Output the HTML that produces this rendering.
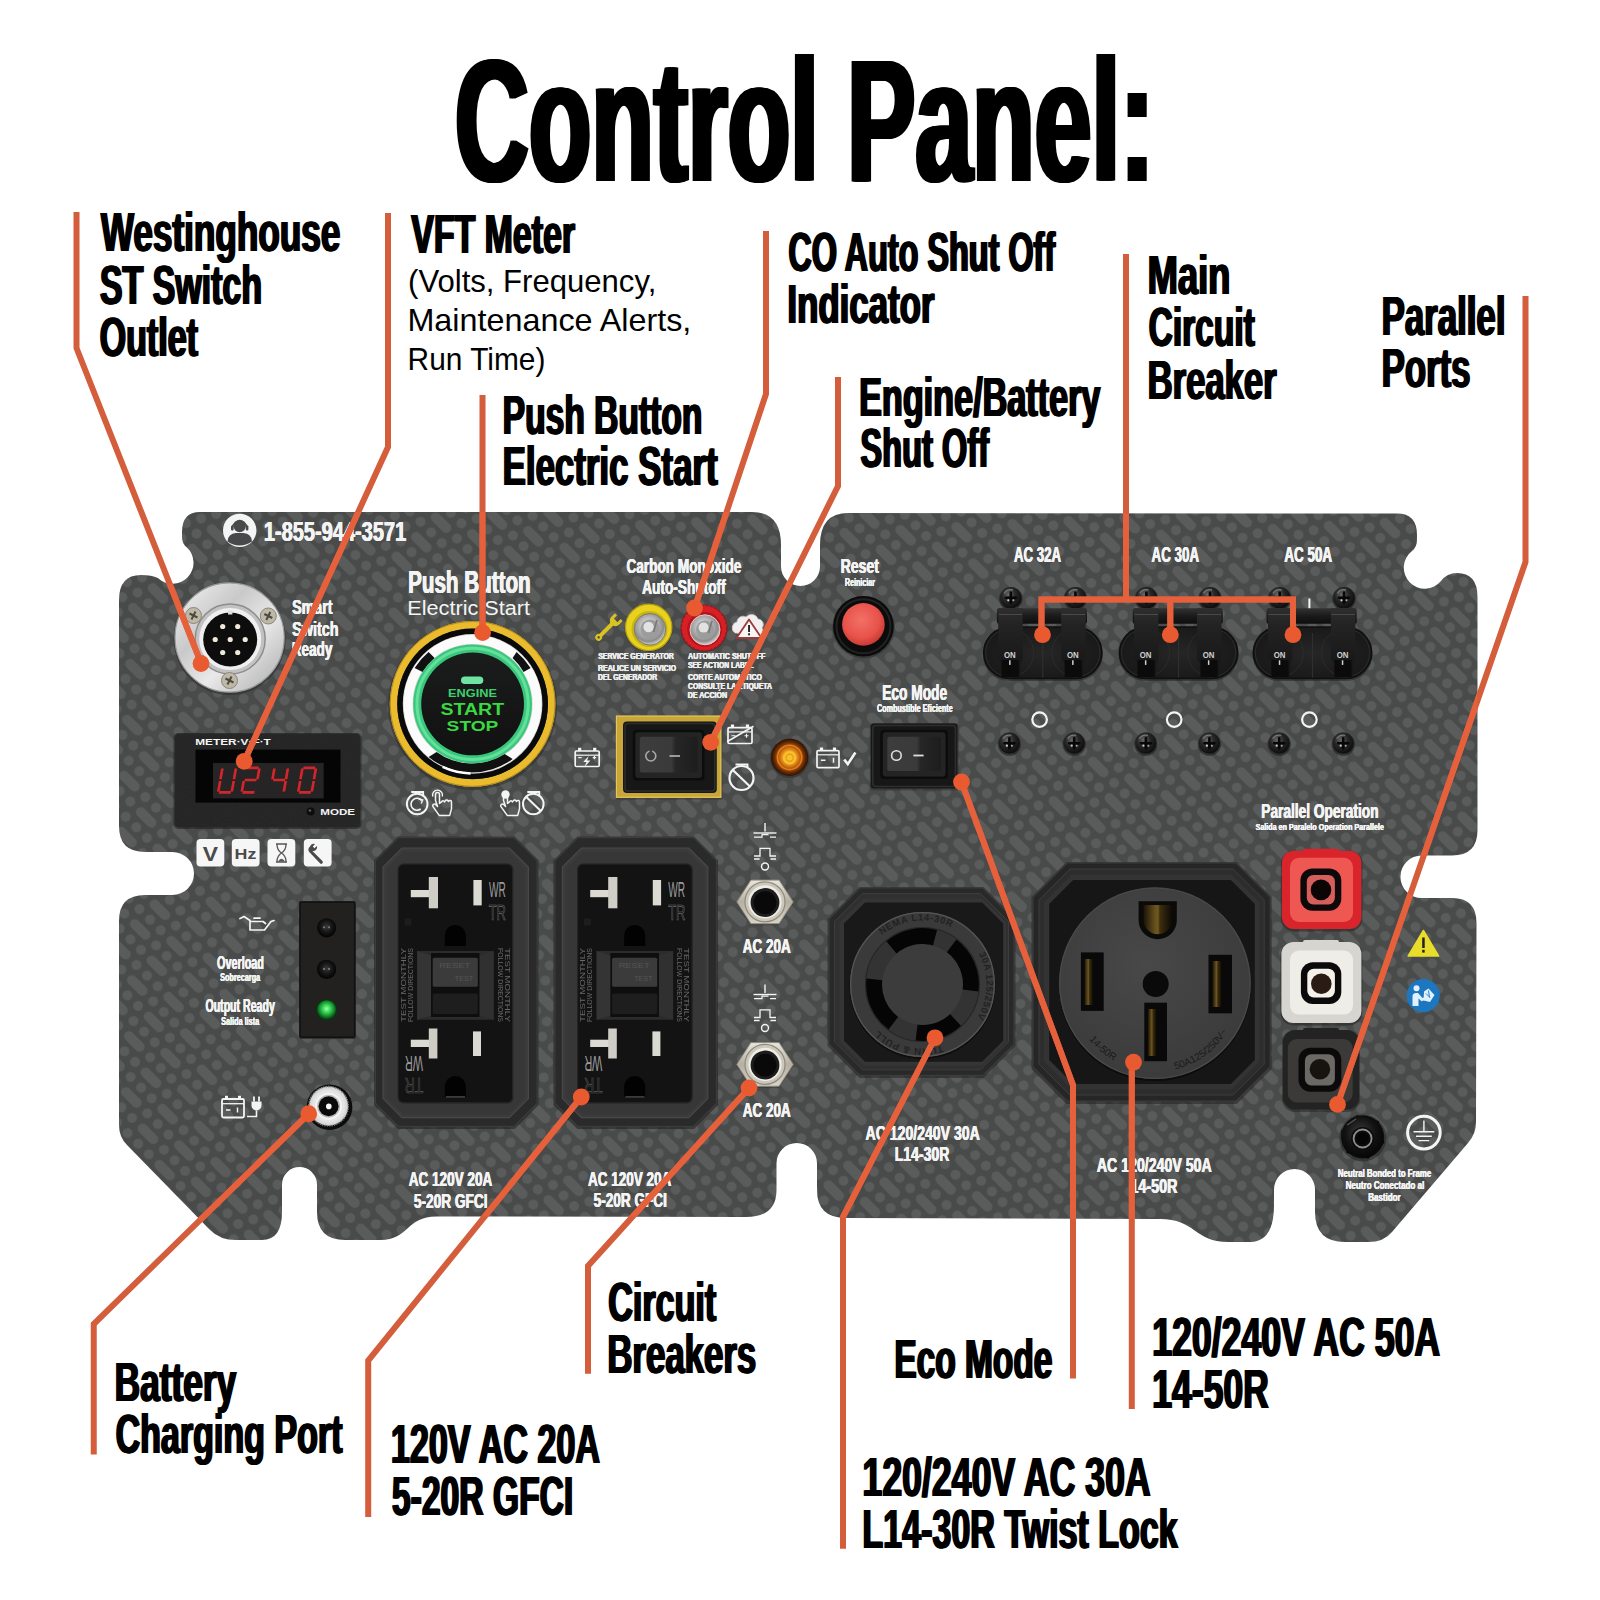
<!DOCTYPE html>
<html lang="en"><head><meta charset="utf-8"><title>Control Panel</title>
<style>
html,body{margin:0;padding:0;background:#fff;}
body{width:1600px;height:1600px;overflow:hidden;font-family:"Liberation Sans",sans-serif;}
svg{display:block;font-family:"Liberation Sans",sans-serif;}
</style></head><body>
<svg width="1600" height="1600" viewBox="0 0 1600 1600">
<defs>
<pattern id="cf" width="75" height="27.8" patternUnits="userSpaceOnUse" patternTransform="translate(3 6) rotate(45)">
<rect width="75" height="27.8" fill="#494b4a"/>
<g fill="#5a5c5b">
<rect x="-12.5" y="-5" width="25" height="10" rx="5"/><rect x="62.5" y="-5" width="25" height="10" rx="5"/>
<rect x="-12.5" y="22.8" width="25" height="10" rx="5"/><rect x="62.5" y="22.8" width="25" height="10" rx="5"/>
<circle cx="22.5" cy="0" r="5"/><circle cx="37.5" cy="0" r="5"/><circle cx="52.5" cy="0" r="5"/>
<circle cx="22.5" cy="27.8" r="5"/><circle cx="37.5" cy="27.8" r="5"/><circle cx="52.5" cy="27.8" r="5"/>
<rect x="25" y="8.9" width="25" height="10" rx="5"/>
<circle cx="60" cy="13.9" r="5"/><circle cx="0" cy="13.9" r="5"/><circle cx="75" cy="13.9" r="5"/><circle cx="15" cy="13.9" r="5"/>
</g>
</pattern>
</defs>
<rect width="1600" height="1600" fill="#fff"/>

<path d="M200,512 L752,512 Q781,512 781,545 L781,566.5 A19.5,19.5 0 0 0 820,566.5 L820,545 Q820,512 850,513 L1397,513.5 Q1417,513.5 1417,535 L1417,540 Q1417,547 1412,551 A21,21 0 1 0 1441,581 Q1447,573 1457,573 Q1477.5,573 1477.5,597 L1477.5,830 Q1477.5,855.5 1452,855.5 L1421.7,855.5 A21.2,21.2 0 0 0 1421.7,898 L1452,898 Q1476.5,898 1476.5,923 L1476,1122 Q1476,1134 1468,1143 L1392,1232 Q1384,1242 1368,1242 L1345,1242 Q1315,1242 1315,1212 L1315,1189.5 A20.5,20.5 0 0 0 1274,1189.5 L1274,1205 Q1274,1242 1250,1242 L1228,1242 C1195,1242 1195,1219 1160,1219 L846,1218 Q817,1218 817,1190 L817,1163.3 A20.25,20.25 0 0 0 776.5,1163.3 L776.5,1190 Q776.5,1217 746,1217 L437,1216.5 C405,1216.5 410,1240 380,1240 L345,1240 Q317,1240 317,1212 L317,1184.5 A17.5,17.5 0 0 0 282,1184.5 L282,1212 Q282,1240 262,1240 L236,1240 Q220,1240 210,1230 L127,1145 Q119,1137 119,1125 L119,921 Q119,895 145,895 L172.5,895 A21.5,21.5 0 0 0 172.5,852 L145,852 Q119,852 119,826 L119,600 Q119,575 141,575 Q152,575 157.9,578 A21,21 0 1 0 187,547.5 Q182,544 182,537 L182,532 Q182,512 200,512 Z" fill="url(#cf)"/>
<defs>
<radialGradient id="scr" cx=".4" cy=".35" r=".7"><stop offset="0" stop-color="#6a6a6a"/><stop offset=".45" stop-color="#262626"/><stop offset="1" stop-color="#0a0a0a"/></radialGradient>
<linearGradient id="chrome" x1="0" y1="0" x2="1" y2="1"><stop offset="0" stop-color="#f4f4f4"/><stop offset=".35" stop-color="#c9c9c9"/><stop offset=".6" stop-color="#e9e9e9"/><stop offset="1" stop-color="#a9a9a9"/></linearGradient>
<radialGradient id="chromeR" cx=".5" cy=".5" r=".5"><stop offset="0" stop-color="#8a8a8a"/><stop offset=".55" stop-color="#b8b8b8"/><stop offset=".75" stop-color="#e8e8e8"/><stop offset="1" stop-color="#cfcfcf"/></radialGradient>
<radialGradient id="greenled" cx=".5" cy=".45" r=".5"><stop offset="0" stop-color="#9dffb0"/><stop offset=".45" stop-color="#2fd24d"/><stop offset="1" stop-color="#0c5a1c"/></radialGradient>
<radialGradient id="darkled" cx=".5" cy=".45" r=".5"><stop offset="0" stop-color="#3a3a3a"/><stop offset=".6" stop-color="#151515"/><stop offset="1" stop-color="#050505"/></radialGradient>
<linearGradient id="btnface" x1="0" y1="0" x2="0" y2="1"><stop offset="0" stop-color="#1b1d1c"/><stop offset="1" stop-color="#101110"/></linearGradient>
<filter id="noise" x="0" y="0" width="100%" height="100%"><feTurbulence type="fractalNoise" baseFrequency="1.1" numOctaves="2" seed="3" result="n"/><feColorMatrix in="n" type="matrix" values="0 0 0 0 0  0 0 0 0 0  0 0 0 0 0  0 0 0 .22 0"/><feComposite operator="in" in2="SourceGraphic"/></filter>

<radialGradient id="metal" cx=".45" cy=".4" r=".6"><stop offset="0" stop-color="#f2f2f2"/><stop offset=".45" stop-color="#b9b9b9"/><stop offset=".8" stop-color="#8c8c8c"/><stop offset="1" stop-color="#d5d5d5"/></radialGradient>
<radialGradient id="amber" cx=".5" cy=".5" r=".5"><stop offset="0" stop-color="#ffd23a"/><stop offset=".35" stop-color="#f0a01c"/><stop offset=".6" stop-color="#b8560e"/><stop offset=".85" stop-color="#5a2506"/><stop offset="1" stop-color="#2a1204"/></radialGradient>
<radialGradient id="redbtn" cx=".45" cy=".4" r=".6"><stop offset="0" stop-color="#f27068"/><stop offset=".7" stop-color="#e8524a"/><stop offset="1" stop-color="#c93a34"/></radialGradient>
<linearGradient id="rocker" x1="0" y1="0" x2="1" y2="0"><stop offset="0" stop-color="#3d3d3d"/><stop offset=".55" stop-color="#3a3a3a"/><stop offset=".62" stop-color="#262626"/><stop offset="1" stop-color="#1d1d1d"/></linearGradient>
<linearGradient id="hexg" x1="0" y1="0" x2="0" y2="1"><stop offset="0" stop-color="#e9e6dc"/><stop offset=".5" stop-color="#b5b0a2"/><stop offset="1" stop-color="#d8d4c8"/></linearGradient>
<radialGradient id="twist" cx=".5" cy=".5" r=".5"><stop offset="0" stop-color="#2c2c2c"/><stop offset=".55" stop-color="#2a2a2a"/><stop offset=".58" stop-color="#1c1c1c"/><stop offset="1" stop-color="#262626"/></radialGradient>

<linearGradient id="lever" x1="0" y1="0" x2="0" y2="1"><stop offset="0" stop-color="#2e2e2e"/><stop offset=".25" stop-color="#232323"/><stop offset="1" stop-color="#141414"/></linearGradient>
<linearGradient id="bar" x1="0" y1="0" x2="0" y2="1"><stop offset="0" stop-color="#333"/><stop offset=".5" stop-color="#1a1a1a"/><stop offset="1" stop-color="#0e0e0e"/></linearGradient>
<radialGradient id="brk" cx=".5" cy=".5" r=".6"><stop offset="0" stop-color="#262626"/><stop offset="1" stop-color="#171717"/></radialGradient>
<radialGradient id="face50" cx=".45" cy=".4" r=".65"><stop offset="0" stop-color="#484848"/><stop offset="1" stop-color="#3a3a3a"/></radialGradient>
<linearGradient id="brass" x1="0" y1="0" x2="1" y2="0"><stop offset="0" stop-color="#1a1306"/><stop offset=".45" stop-color="#6d5620"/><stop offset=".6" stop-color="#3a2c0e"/><stop offset="1" stop-color="#0d0a04"/></linearGradient>
<radialGradient id="stud" cx=".45" cy=".4" r=".6"><stop offset="0" stop-color="#3a3a3a"/><stop offset=".6" stop-color="#111"/><stop offset="1" stop-color="#050505"/></radialGradient>
</defs>
<circle cx="239.7" cy="530.4" r="16.7" fill="#f4f4f4"/>
<circle cx="239.7" cy="526" r="6.2" fill="#47494a"/><path d="M227.5,541.5 Q228,533.5 236,533 L243.4,533 Q251.5,533.5 252,541.5 Q246,545.5 239.7,545.5 Q233,545.5 227.5,541.5 Z" fill="#47494a"/><path d="M232.3,527.5 A7.5,7.5 0 0 1 247.1,527.5" fill="none" stroke="#47494a" stroke-width="1.6"/><rect x="231" y="525.5" width="2.6" height="5" rx="1" fill="#47494a"/><rect x="245.8" y="525.5" width="2.6" height="5" rx="1" fill="#47494a"/>
<text x="263.50" y="541.00" font-size="28" font-weight="bold" fill="#f4f4f4" textLength="142.34" lengthAdjust="spacingAndGlyphs" >1-855-944-3571</text>
<text x="263.85" y="541.00" font-size="28" font-weight="bold" fill="#f4f4f4" textLength="142.34" lengthAdjust="spacingAndGlyphs" >1-855-944-3571</text>
<text x="264.20" y="541.00" font-size="28" font-weight="bold" fill="#f4f4f4" textLength="142.34" lengthAdjust="spacingAndGlyphs" >1-855-944-3571</text>
<circle cx="229.6" cy="639.0" r="56" fill="#2a2a2a" opacity=".55"/>
<circle cx="229.6" cy="637.5" r="54.6" fill="url(#chrome)"/>
<circle cx="229.6" cy="637.5" r="54.6" fill="none" stroke="#9a9a9a" stroke-width="1.2"/>
<circle cx="230.2" cy="639.0" r="35" fill="#c2c2c2"/><circle cx="230.2" cy="639.0" r="35" fill="none" stroke="#8d8d8d" stroke-width="1.5"/>
<circle cx="230.2" cy="639.0" r="31" fill="#efefef"/>
<circle cx="230.2" cy="639.5" r="27" fill="#0d0d0d"/>
<rect x="228.0" y="610.5" width="4.4" height="4" fill="#ddd"/>
<circle cx="245.2" cy="639.5" r="2.6" fill="#efe9d8"/>
<circle cx="237.7" cy="652.5" r="2.6" fill="#efe9d8"/>
<circle cx="222.7" cy="652.5" r="2.6" fill="#efe9d8"/>
<circle cx="215.2" cy="639.5" r="2.6" fill="#efe9d8"/>
<circle cx="222.7" cy="626.5" r="2.6" fill="#efe9d8"/>
<circle cx="237.7" cy="626.5" r="2.6" fill="#efe9d8"/>
<circle cx="230.2" cy="639.5" r="2.6" fill="#efe9d8"/>
<circle cx="193.5" cy="615.5" r="8" fill="#bdb8a8"/><circle cx="193.5" cy="615.5" r="8" fill="none" stroke="#8b8676" stroke-width="1"/><path d="M189.5,613.5 L197.5,617.5 M195.5,611.5 L191.5,619.5" stroke="#4d493f" stroke-width="2"/>
<circle cx="268.3" cy="616" r="8" fill="#bdb8a8"/><circle cx="268.3" cy="616" r="8" fill="none" stroke="#8b8676" stroke-width="1"/><path d="M264.3,614 L272.3,618 M270.3,612 L266.3,620" stroke="#4d493f" stroke-width="2"/>
<circle cx="229.5" cy="680.5" r="8" fill="#bdb8a8"/><circle cx="229.5" cy="680.5" r="8" fill="none" stroke="#8b8676" stroke-width="1"/><path d="M225.5,678.5 L233.5,682.5 M231.5,676.5 L227.5,684.5" stroke="#4d493f" stroke-width="2"/>
<text x="291.87" y="613.80" font-size="21" font-weight="bold" fill="#f4f4f4" textLength="40.33" lengthAdjust="spacingAndGlyphs" >Smart</text>
<text x="292.17" y="613.80" font-size="21" font-weight="bold" fill="#f4f4f4" textLength="40.33" lengthAdjust="spacingAndGlyphs" >Smart</text>
<text x="292.47" y="613.80" font-size="21" font-weight="bold" fill="#f4f4f4" textLength="40.33" lengthAdjust="spacingAndGlyphs" >Smart</text>
<text x="291.87" y="635.60" font-size="21" font-weight="bold" fill="#f4f4f4" textLength="46.44" lengthAdjust="spacingAndGlyphs" >Switch</text>
<text x="292.17" y="635.60" font-size="21" font-weight="bold" fill="#f4f4f4" textLength="46.44" lengthAdjust="spacingAndGlyphs" >Switch</text>
<text x="292.47" y="635.60" font-size="21" font-weight="bold" fill="#f4f4f4" textLength="46.44" lengthAdjust="spacingAndGlyphs" >Switch</text>
<text x="291.42" y="656.30" font-size="21" font-weight="bold" fill="#f4f4f4" textLength="40.67" lengthAdjust="spacingAndGlyphs" >Ready</text>
<text x="291.72" y="656.30" font-size="21" font-weight="bold" fill="#f4f4f4" textLength="40.67" lengthAdjust="spacingAndGlyphs" >Ready</text>
<text x="292.02" y="656.30" font-size="21" font-weight="bold" fill="#f4f4f4" textLength="40.67" lengthAdjust="spacingAndGlyphs" >Ready</text>
<rect x="173.5" y="733" width="188" height="96" rx="5" fill="#1b1b1b" opacity=".55"/>
<rect x="175" y="733.8" width="185" height="93.5" rx="4" fill="#2b2b2b"/>
<rect x="175" y="733.8" width="185" height="93.5" rx="4" fill="#888" filter="url(#noise)"/>
<rect x="195.5" y="749.6" width="145" height="53" fill="#050505"/>
<rect x="213" y="763" width="110.7" height="35.4" fill="#262424"/>
<path transform="translate(222.5,767.8) skewX(-10)" d="M0.0,0.8 L0.0,11.4 M13.5,0.8 L13.5,11.4 M0.0,13.1 L0.0,23.7 M0.8,24.5 L12.7,24.5 M13.5,13.1 L13.5,23.7" stroke="#d3262b" stroke-width="2.7" stroke-linecap="butt" fill="none"/>
<path transform="translate(246,767.8) skewX(-10)" d="M0.8,0.0 L12.7,0.0 M13.5,0.8 L13.5,11.4 M0.8,12.2 L12.7,12.2 M0.0,13.1 L0.0,23.7 M0.8,24.5 L12.7,24.5" stroke="#d3262b" stroke-width="2.7" stroke-linecap="butt" fill="none"/>
<path transform="translate(274.5,767.8) skewX(-10)" d="M0.0,0.8 L0.0,11.4 M0.8,12.2 L12.7,12.2 M13.5,0.8 L13.5,11.4 M13.5,13.1 L13.5,23.7" stroke="#d3262b" stroke-width="2.7" stroke-linecap="butt" fill="none"/>
<path transform="translate(302.5,767.8) skewX(-10)" d="M0.8,0.0 L12.7,0.0 M13.5,0.8 L13.5,11.4 M13.5,13.1 L13.5,23.7 M0.8,24.5 L12.7,24.5 M0.0,13.1 L0.0,23.7 M0.0,0.8 L0.0,11.4" stroke="#d3262b" stroke-width="2.7" stroke-linecap="butt" fill="none"/>
<text x="195.23" y="745.00" font-size="8.6" font-weight="bold" fill="#f4f4f4" textLength="75.62" lengthAdjust="spacingAndGlyphs" >METER·V·F·T</text>
<text x="320.25" y="815.20" font-size="8.6" font-weight="bold" fill="#f4f4f4" textLength="34.76" lengthAdjust="spacingAndGlyphs" >MODE</text>
<circle cx="310.6" cy="811.5" r="4" fill="#0c0c0c"/><circle cx="309.9" cy="810.6" r="1.4" fill="#555"/>
<rect x="196.5" y="839" width="27.8" height="27.6" rx="4" fill="#f6f6f6"/>
<rect x="231.8" y="839" width="27.8" height="27.6" rx="4" fill="#f6f6f6"/>
<rect x="267.5" y="839" width="27.8" height="27.6" rx="4" fill="#f6f6f6"/>
<rect x="303.8" y="839" width="27.8" height="27.6" rx="4" fill="#f6f6f6"/>
<text x="202.89" y="860.50" font-size="21" font-weight="bold" fill="#4a4a4a" textLength="15.28" lengthAdjust="spacingAndGlyphs" >V</text>
<text x="234.64" y="858.80" font-size="14" font-weight="bold" fill="#4a4a4a" textLength="21.82" lengthAdjust="spacingAndGlyphs" >Hz</text>
<path d="M276,844 L287,844 M276,862 L287,862 M277,844.5 Q277,850 281.5,853 Q286,850 286,844.5 M277,861.5 Q277,856 281.5,853 Q286,856 286,861.5" fill="none" stroke="#555" stroke-width="1.3"/><path d="M278,861.5 Q281.5,856 285,861.5 Z" fill="#555"/>
<path d="M310,846.5 a4,4 0 0 1 5,-2.5 l-2.2,2.6 l1.6,1.6 l2.6,-2.2 a4,4 0 0 1 -4.6,5 l10,10 a1.6,1.6 0 0 1 -2.4,2.3 l-9.8,-10.2 a4,4 0 0 1 -.2,-6.6 Z" fill="#4a4a4a"/>
<rect x="299" y="901" width="57" height="138" rx="2" fill="#1f1f1f" opacity=".6"/>
<rect x="300" y="901.9" width="54.7" height="135.3" rx="1.5" fill="#222120"/>
<rect x="300" y="901.9" width="54.7" height="135.3" rx="1.5" fill="none" stroke="#111" stroke-width="1.5"/>
<circle cx="326.6" cy="927.8" r="9.6" fill="url(#darkled)"/><circle cx="324" cy="927.3" r="1.1" fill="#777"/><circle cx="329" cy="927.3" r="1.1" fill="#777"/>
<circle cx="326.6" cy="969.4" r="9.6" fill="url(#darkled)"/><circle cx="324" cy="968.9" r="1.1" fill="#777"/><circle cx="329" cy="968.9" r="1.1" fill="#777"/>
<circle cx="326.6" cy="1009.7" r="11" fill="#0d3314"/><circle cx="326.6" cy="1009.7" r="9.4" fill="url(#greenled)"/>
<text x="216.77" y="969.40" font-size="18.7" font-weight="bold" fill="#f4f4f4" textLength="46.83" lengthAdjust="spacingAndGlyphs" >Overload</text>
<text x="217.02" y="969.40" font-size="18.7" font-weight="bold" fill="#f4f4f4" textLength="46.83" lengthAdjust="spacingAndGlyphs" >Overload</text>
<text x="217.27" y="969.40" font-size="18.7" font-weight="bold" fill="#f4f4f4" textLength="46.83" lengthAdjust="spacingAndGlyphs" >Overload</text>
<text x="220.08" y="981.00" font-size="10.5" font-weight="bold" fill="#f4f4f4" textLength="39.96" lengthAdjust="spacingAndGlyphs" >Sobrecarga</text>
<text x="220.18" y="981.00" font-size="10.5" font-weight="bold" fill="#f4f4f4" textLength="39.96" lengthAdjust="spacingAndGlyphs" >Sobrecarga</text>
<text x="220.28" y="981.00" font-size="10.5" font-weight="bold" fill="#f4f4f4" textLength="39.96" lengthAdjust="spacingAndGlyphs" >Sobrecarga</text>
<text x="205.18" y="1012.20" font-size="18.7" font-weight="bold" fill="#f4f4f4" textLength="69.39" lengthAdjust="spacingAndGlyphs" >Output Ready</text>
<text x="205.43" y="1012.20" font-size="18.7" font-weight="bold" fill="#f4f4f4" textLength="69.39" lengthAdjust="spacingAndGlyphs" >Output Ready</text>
<text x="205.68" y="1012.20" font-size="18.7" font-weight="bold" fill="#f4f4f4" textLength="69.39" lengthAdjust="spacingAndGlyphs" >Output Ready</text>
<text x="221.03" y="1024.70" font-size="10.5" font-weight="bold" fill="#f4f4f4" textLength="38.09" lengthAdjust="spacingAndGlyphs" >Salida lista</text>
<text x="221.13" y="1024.70" font-size="10.5" font-weight="bold" fill="#f4f4f4" textLength="38.09" lengthAdjust="spacingAndGlyphs" >Salida lista</text>
<text x="221.23" y="1024.70" font-size="10.5" font-weight="bold" fill="#f4f4f4" textLength="38.09" lengthAdjust="spacingAndGlyphs" >Salida lista</text>
<path d="M240,918.5 l4,-2 l6,4 l0,9.5 l14.5,0 l6.5,-8.5 l3,-1 M250,921.5 l13,0 l2.5,2 M254,918.2 l6,0" fill="none" stroke="#f4f4f4" stroke-width="1.7" stroke-linejoin="round" stroke-linecap="round"/>
<rect x="222" y="1099" width="22" height="18.5" rx="1.5" fill="none" stroke="#f4f4f4" stroke-width="1.8"/><path d="M226.5,1099 v-3.3 M239.5,1099 v-3.3" stroke="#f4f4f4" stroke-width="3"/><path d="M222,1103.7 h22" stroke="#f4f4f4" stroke-width="1.3"/><path d="M226,1110 h4.5 M237.5,1107.5 v5" stroke="#f4f4f4" stroke-width="1.5"/><path d="M247,1116.5 h9.5 v-6" fill="none" stroke="#f4f4f4" stroke-width="1.6"/><path d="M251.5,1101.5 h10 v4 a5,5 0 0 1 -10,0 Z" fill="#f4f4f4"/><path d="M254,1101.5 v-5 M259,1101.5 v-5" stroke="#f4f4f4" stroke-width="1.8"/>
<circle cx="329.5" cy="1107.2" r="22.8" fill="#0c0c0c"/>
<circle cx="328.6" cy="1106.2" r="19.6" fill="url(#chromeR)"/>
<circle cx="328.6" cy="1106.2" r="19.6" fill="none" stroke="#8b8b8b" stroke-width="1.6" stroke-dasharray="1.2 1.2"/>
<circle cx="328.6" cy="1106.2" r="12.6" fill="none" stroke="#f3f3f3" stroke-width="2.2"/><circle cx="328.6" cy="1106.2" r="10" fill="#090909"/><circle cx="328.8" cy="1106.4" r="2.8" fill="#f8f8f8"/>
<path d="M398.0,836.6 L514.6,836.6 L538.6,860.6 L538.6,1104.9 L514.6,1128.9 L398.0,1128.9 L374.0,1104.9 L374.0,860.6 Z" fill="#1d1d1d" opacity=".55"/>
<path d="M398.5,837.6 L514.1,837.6 L537.1,860.6 L537.1,1103.4 L514.1,1126.4 L398.5,1126.4 L375.5,1103.4 L375.5,860.6 Z" fill="#2a2a2a" stroke="#3b3b3b" stroke-width="1.2"/>
<path d="M402.0,848.0 L509.4,848.0 L528.4,867.0 L528.4,1098.6000000000001 L509.4,1117.6000000000001 L402.0,1117.6000000000001 L383.0,1098.6000000000001 L383.0,867.0 Z" fill="#3b3b3b" stroke="#484848" stroke-width="1.2"/>
<path d="M403.5,851.6 L508.1,851.6 L525.1,868.6 L525.1,1097.4 L508.1,1114.4 L403.5,1114.4 L386.5,1097.4 L386.5,868.6 Z" fill="#373737"/>
<rect x="397.6" y="863.4" width="115.8" height="240" rx="6" fill="#232323"/>
<rect x="398.8" y="864.7" width="113.2" height="237.3" rx="5" fill="#131313"/>
<rect x="410.8" y="890" width="19" height="7.2" fill="#dad9d2"/><rect x="428.8" y="877" width="9.2" height="31.3" fill="#cfcec6"/>
<rect x="473.4" y="880" width="8.3" height="25.4" fill="#dad9d2"/>
<rect x="410.8" y="1039.7" width="19" height="7.3" fill="#dad9d2"/><rect x="428.8" y="1028.5" width="8.6" height="30" fill="#cfcec6"/>
<rect x="473.0" y="1031.4" width="8" height="24.6" fill="#dad9d2"/>
<path d="M444.8,946.0 L444.8,935.5 A10.5,10.5 0 0 1 465.8,935.5 L465.8,946.0 Z" fill="#020202"/>
<path d="M444.8,1097.1 L444.8,1086.6 A10.5,10.5 0 0 1 465.8,1086.6 L465.8,1097.1 Z" fill="#020202"/>
<rect x="446.0" y="1096" width="19" height="1.8" fill="#3a3a3a"/>
<text x="488.95" y="897.00" font-size="22" font-weight="normal" fill="#9a9a9a" textLength="16.81" lengthAdjust="spacingAndGlyphs" >WR</text>
<text x="488.74" y="919.50" font-size="22" font-weight="normal" fill="none" textLength="17.18" lengthAdjust="spacingAndGlyphs" stroke="#6d6d6d" stroke-width=".7">TR</text>
<g transform="rotate(180 414.2 1063.5)">
<text x="405.45" y="1071.50" font-size="22" font-weight="normal" fill="#9a9a9a" textLength="18.05" lengthAdjust="spacingAndGlyphs" >WR</text>
</g>
<g transform="rotate(180 414.2 1086)">
<text x="405.22" y="1094.00" font-size="22" font-weight="normal" fill="none" textLength="18.44" lengthAdjust="spacingAndGlyphs" stroke="#5a5a5a" stroke-width=".7">TR</text>
</g>
<path d="M417.2,951 L493.7,951 L493.7,1019.8 L417.2,1019.8 Z" fill="#2c2c2c"/>
<path d="M417.2,951 L432.0,956 L432.0,1015 L417.2,1019.8 Z" fill="#343434"/><path d="M493.7,951 L478.5,956 L478.5,1015 L493.7,1019.8 Z" fill="#303030"/>
<rect x="431.0" y="953" width="48.5" height="64" fill="#0e0e0e"/>
<rect x="432.7" y="957.8" width="45.1" height="29" rx="1.5" fill="#3b3b3b"/>
<rect x="432.7" y="993.6" width="45.1" height="20.4" rx="1.5" fill="#1e1e1e"/>
<text x="439.26" y="968.00" font-size="7" font-weight="normal" fill="#555" textLength="30.92" lengthAdjust="spacingAndGlyphs" >RESET</text>
<text x="454.86" y="981.00" font-size="7" font-weight="normal" fill="#555" textLength="18.29" lengthAdjust="spacingAndGlyphs" >TEST</text>
<g transform="rotate(-90 408.0 985)" fill="#777" font-size="6.6" opacity=".85"><text x="371.0" y="983" textLength="74" lengthAdjust="spacingAndGlyphs">TEST MONTHLY</text><text x="371.0" y="990" textLength="74" lengthAdjust="spacingAndGlyphs">FOLLOW DIRECTIONS</text></g>
<g transform="rotate(90 503.0 985)" fill="#777" font-size="6.6" opacity=".85"><text x="466.0" y="983" textLength="74" lengthAdjust="spacingAndGlyphs">TEST MONTHLY</text><text x="466.0" y="990" textLength="74" lengthAdjust="spacingAndGlyphs">FOLLOW DIRECTIONS</text></g>
<rect x="404.5" y="918.5" width="7" height="7" rx="1" fill="#1d1d1d"/>
<path d="M577.4,836.6 L694.0,836.6 L718.0,860.6 L718.0,1104.9 L694.0,1128.9 L577.4,1128.9 L553.4,1104.9 L553.4,860.6 Z" fill="#1d1d1d" opacity=".55"/>
<path d="M577.9,837.6 L693.5,837.6 L716.5,860.6 L716.5,1103.4 L693.5,1126.4 L577.9,1126.4 L554.9,1103.4 L554.9,860.6 Z" fill="#2a2a2a" stroke="#3b3b3b" stroke-width="1.2"/>
<path d="M581.4,848.0 L688.8,848.0 L707.8,867.0 L707.8,1098.6000000000001 L688.8,1117.6000000000001 L581.4,1117.6000000000001 L562.4,1098.6000000000001 L562.4,867.0 Z" fill="#3b3b3b" stroke="#484848" stroke-width="1.2"/>
<path d="M582.9,851.6 L687.5,851.6 L704.5,868.6 L704.5,1097.4 L687.5,1114.4 L582.9,1114.4 L565.9,1097.4 L565.9,868.6 Z" fill="#373737"/>
<rect x="576.9999999999999" y="863.4" width="115.8" height="240" rx="6" fill="#232323"/>
<rect x="578.1999999999999" y="864.7" width="113.2" height="237.3" rx="5" fill="#131313"/>
<rect x="590.2" y="890" width="19" height="7.2" fill="#dad9d2"/><rect x="608.2" y="877" width="9.2" height="31.3" fill="#cfcec6"/>
<rect x="652.8" y="880" width="8.3" height="25.4" fill="#dad9d2"/>
<rect x="590.2" y="1039.7" width="19" height="7.3" fill="#dad9d2"/><rect x="608.2" y="1028.5" width="8.6" height="30" fill="#cfcec6"/>
<rect x="652.4" y="1031.4" width="8" height="24.6" fill="#dad9d2"/>
<path d="M624.2,946.0 L624.2,935.5 A10.5,10.5 0 0 1 645.2,935.5 L645.2,946.0 Z" fill="#020202"/>
<path d="M624.2,1097.1 L624.2,1086.6 A10.5,10.5 0 0 1 645.2,1086.6 L645.2,1097.1 Z" fill="#020202"/>
<rect x="625.4" y="1096" width="19" height="1.8" fill="#3a3a3a"/>
<text x="668.35" y="897.00" font-size="22" font-weight="normal" fill="#9a9a9a" textLength="16.81" lengthAdjust="spacingAndGlyphs" >WR</text>
<text x="668.14" y="919.50" font-size="22" font-weight="normal" fill="none" textLength="17.18" lengthAdjust="spacingAndGlyphs" stroke="#6d6d6d" stroke-width=".7">TR</text>
<g transform="rotate(180 593.5999999999999 1063.5)">
<text x="584.85" y="1071.50" font-size="22" font-weight="normal" fill="#9a9a9a" textLength="18.05" lengthAdjust="spacingAndGlyphs" >WR</text>
</g>
<g transform="rotate(180 593.5999999999999 1086)">
<text x="584.62" y="1094.00" font-size="22" font-weight="normal" fill="none" textLength="18.44" lengthAdjust="spacingAndGlyphs" stroke="#5a5a5a" stroke-width=".7">TR</text>
</g>
<path d="M596.5999999999999,951 L673.0999999999999,951 L673.0999999999999,1019.8 L596.5999999999999,1019.8 Z" fill="#2c2c2c"/>
<path d="M596.5999999999999,951 L611.4,956 L611.4,1015 L596.5999999999999,1019.8 Z" fill="#343434"/><path d="M673.0999999999999,951 L657.9,956 L657.9,1015 L673.0999999999999,1019.8 Z" fill="#303030"/>
<rect x="610.4" y="953" width="48.5" height="64" fill="#0e0e0e"/>
<rect x="612.0999999999999" y="957.8" width="45.1" height="29" rx="1.5" fill="#3b3b3b"/>
<rect x="612.0999999999999" y="993.6" width="45.1" height="20.4" rx="1.5" fill="#1e1e1e"/>
<text x="618.66" y="968.00" font-size="7" font-weight="normal" fill="#555" textLength="30.92" lengthAdjust="spacingAndGlyphs" >RESET</text>
<text x="634.26" y="981.00" font-size="7" font-weight="normal" fill="#555" textLength="18.29" lengthAdjust="spacingAndGlyphs" >TEST</text>
<g transform="rotate(-90 587.4 985)" fill="#777" font-size="6.6" opacity=".85"><text x="550.4" y="983" textLength="74" lengthAdjust="spacingAndGlyphs">TEST MONTHLY</text><text x="550.4" y="990" textLength="74" lengthAdjust="spacingAndGlyphs">FOLLOW DIRECTIONS</text></g>
<g transform="rotate(90 682.4 985)" fill="#777" font-size="6.6" opacity=".85"><text x="645.4" y="983" textLength="74" lengthAdjust="spacingAndGlyphs">TEST MONTHLY</text><text x="645.4" y="990" textLength="74" lengthAdjust="spacingAndGlyphs">FOLLOW DIRECTIONS</text></g>
<rect x="583.9" y="918.5" width="7" height="7" rx="1" fill="#1d1d1d"/>
<text x="408.41" y="1185.60" font-size="20.5" font-weight="bold" fill="#f4f4f4" textLength="83.53" lengthAdjust="spacingAndGlyphs" >AC 120V 20A</text>
<text x="408.71" y="1185.60" font-size="20.5" font-weight="bold" fill="#f4f4f4" textLength="83.53" lengthAdjust="spacingAndGlyphs" >AC 120V 20A</text>
<text x="409.01" y="1185.60" font-size="20.5" font-weight="bold" fill="#f4f4f4" textLength="83.53" lengthAdjust="spacingAndGlyphs" >AC 120V 20A</text>
<text x="413.59" y="1207.50" font-size="20.5" font-weight="bold" fill="#f4f4f4" textLength="73.67" lengthAdjust="spacingAndGlyphs" >5-20R GFCI</text>
<text x="413.89" y="1207.50" font-size="20.5" font-weight="bold" fill="#f4f4f4" textLength="73.67" lengthAdjust="spacingAndGlyphs" >5-20R GFCI</text>
<text x="414.19" y="1207.50" font-size="20.5" font-weight="bold" fill="#f4f4f4" textLength="73.67" lengthAdjust="spacingAndGlyphs" >5-20R GFCI</text>
<text x="587.66" y="1185.60" font-size="20.5" font-weight="bold" fill="#f4f4f4" textLength="83.33" lengthAdjust="spacingAndGlyphs" >AC 120V 20A</text>
<text x="587.96" y="1185.60" font-size="20.5" font-weight="bold" fill="#f4f4f4" textLength="83.33" lengthAdjust="spacingAndGlyphs" >AC 120V 20A</text>
<text x="588.26" y="1185.60" font-size="20.5" font-weight="bold" fill="#f4f4f4" textLength="83.33" lengthAdjust="spacingAndGlyphs" >AC 120V 20A</text>
<text x="593.34" y="1207.20" font-size="20.5" font-weight="bold" fill="#f4f4f4" textLength="73.26" lengthAdjust="spacingAndGlyphs" >5-20R GFCI</text>
<text x="593.64" y="1207.20" font-size="20.5" font-weight="bold" fill="#f4f4f4" textLength="73.26" lengthAdjust="spacingAndGlyphs" >5-20R GFCI</text>
<text x="593.94" y="1207.20" font-size="20.5" font-weight="bold" fill="#f4f4f4" textLength="73.26" lengthAdjust="spacingAndGlyphs" >5-20R GFCI</text>
<text x="407.66" y="592.90" font-size="30.5" font-weight="bold" fill="#f4f4f4" textLength="122.55" lengthAdjust="spacingAndGlyphs" >Push Button</text>
<text x="408.11" y="592.90" font-size="30.5" font-weight="bold" fill="#f4f4f4" textLength="122.55" lengthAdjust="spacingAndGlyphs" >Push Button</text>
<text x="408.56" y="592.90" font-size="30.5" font-weight="bold" fill="#f4f4f4" textLength="122.55" lengthAdjust="spacingAndGlyphs" >Push Button</text>
<text x="407.27" y="614.90" font-size="20" font-weight="normal" fill="#f4f4f4" textLength="122.81" lengthAdjust="spacingAndGlyphs" >Electric Start</text>
<circle cx="472.6" cy="705.4" r="84.5" fill="#2a2a2a" opacity=".5"/>
<circle cx="472.6" cy="703.9" r="79" fill="none" stroke="#e9bb2d" stroke-width="7.6"/>
<circle cx="472.6" cy="703.9" r="82.4" fill="none" stroke="#b38a1c" stroke-width="1"/>
<circle cx="472.6" cy="703.9" r="75.4" fill="#0a0a0a"/>
<circle cx="472.6" cy="703.9" r="69.8" fill="url(#chrome)"/>
<circle cx="472.6" cy="703.9" r="64.5" fill="none" stroke="#fbfbfb" stroke-width="9"/>
<path d="M414.6,667.9 A68,68 0 0 1 428.6,651.9 L434.6,657.9 A60,60 0 0 0 422.6,671.9 Z" fill="#111"/>
<path d="M530.6,667.9 A68,68 0 0 0 516.6,651.9 L512.6,657.9 A60,60 0 0 1 523.6,671.9 Z" fill="#111"/>
<path d="M428.6,756.9 A68,68 0 0 0 512.6,758.9 L504.6,753.9 A60,60 0 0 1 436.6,751.9 Z" fill="#111"/>
<path d="M442.6,766.9 A70,70 0 0 0 470.6,773.4" stroke="#fff" stroke-width="2.5" fill="none"/>
<circle cx="472.6" cy="703.9" r="59.4" fill="#39c77e"/>
<circle cx="472.6" cy="703.9" r="55.6" fill="none" stroke="#63e09a" stroke-width="3"/>
<circle cx="472.6" cy="703.9" r="51.4" fill="url(#btnface)"/>
<rect x="461" y="676.5" width="22.3" height="7.5" rx="3.75" fill="#6ee3a2"/>
<text x="448.07" y="697.00" font-size="10.4" font-weight="bold" fill="#3fcf6e" textLength="48.93" lengthAdjust="spacingAndGlyphs" >ENGINE</text>
<text x="440.41" y="715.00" font-size="16" font-weight="bold" fill="#3ad842" textLength="63.76" lengthAdjust="spacingAndGlyphs" >START</text>
<text x="446.63" y="731.30" font-size="15.4" font-weight="bold" fill="#3ad842" textLength="51.74" lengthAdjust="spacingAndGlyphs" >STOP</text>
<path d="M411.2,792.0 h12 v3" fill="none" stroke="#f4f4f4" stroke-width="1.8"/><circle cx="417.2" cy="804.0" r="10.3" fill="none" stroke="#f4f4f4" stroke-width="2"/><path d="M421.7,800.5 A6,6 0 1 0 420.7,809.0" fill="none" stroke="#f4f4f4" stroke-width="1.6"/><path d="M418.7,799.0 l4,1 l-1.5,3.5" fill="none" stroke="#f4f4f4" stroke-width="1.4"/>
<path d="M435.5,800.5 v-6 a2,2 0 0 1 4,0 v9 l2,-1.6 a1.6,1.6 0 0 1 3,0 l.8,-1 a1.6,1.6 0 0 1 3,.6 l.6,-.6 a1.5,1.5 0 0 1 2.6,1 v7 l-1.8,6.5 h-10.5 l-6.4,-9 a1.8,1.8 0 0 1 2.8,-2 l2,2 Z" fill="none" stroke="#f4f4f4" stroke-width="1.5" stroke-linejoin="round"/><path d="M432.7,796.5 a5,5 0 1 1 9.6,0" fill="none" stroke="#f4f4f4" stroke-width="1.4"/>
<path d="M503.5,800.5 v-6 a2,2 0 0 1 4,0 v9 l2,-1.6 a1.6,1.6 0 0 1 3,0 l.8,-1 a1.6,1.6 0 0 1 3,.6 l.6,-.6 a1.5,1.5 0 0 1 2.6,1 v7 l-1.8,6.5 h-10.5 l-6.4,-9 a1.8,1.8 0 0 1 2.8,-2 l2,2 Z" fill="none" stroke="#f4f4f4" stroke-width="1.5" stroke-linejoin="round"/><circle cx="505.5" cy="794.5" r="4.2" fill="#f4f4f4"/>
<path d="M527.3,792.0 h12 v3" fill="none" stroke="#f4f4f4" stroke-width="1.8"/><circle cx="533.3" cy="804.0" r="10.3" fill="none" stroke="#f4f4f4" stroke-width="2"/><path d="M526.3,797.0 L540.8,811.0" stroke="#f4f4f4" stroke-width="2"/>
<text x="626.16" y="573.00" font-size="19.3" font-weight="bold" fill="#f4f4f4" textLength="114.91" lengthAdjust="spacingAndGlyphs" >Carbon Monoxide</text>
<text x="626.46" y="573.00" font-size="19.3" font-weight="bold" fill="#f4f4f4" textLength="114.91" lengthAdjust="spacingAndGlyphs" >Carbon Monoxide</text>
<text x="626.76" y="573.00" font-size="19.3" font-weight="bold" fill="#f4f4f4" textLength="114.91" lengthAdjust="spacingAndGlyphs" >Carbon Monoxide</text>
<text x="641.86" y="594.30" font-size="19.3" font-weight="bold" fill="#f4f4f4" textLength="83.52" lengthAdjust="spacingAndGlyphs" >Auto-Shutoff</text>
<text x="642.16" y="594.30" font-size="19.3" font-weight="bold" fill="#f4f4f4" textLength="83.52" lengthAdjust="spacingAndGlyphs" >Auto-Shutoff</text>
<text x="642.46" y="594.30" font-size="19.3" font-weight="bold" fill="#f4f4f4" textLength="83.52" lengthAdjust="spacingAndGlyphs" >Auto-Shutoff</text>
<circle cx="648.7" cy="628" r="24" fill="#2a2a2a" opacity=".45"/>
<circle cx="648.7" cy="627.3" r="23.2" fill="#e9d21e"/><circle cx="648.7" cy="627.3" r="23.2" fill="none" stroke="#b39d10" stroke-width="1.2"/>
<circle cx="649.5" cy="629" r="18" fill="#c9b412"/>
<circle cx="650" cy="629.3" r="15.8" fill="url(#metal)"/><circle cx="650" cy="629.3" r="15.8" fill="none" stroke="#7b7b6b" stroke-width="1"/>
<circle cx="650" cy="629" r="9.5" fill="#9c9c9c"/><circle cx="648.6" cy="627" r="5.2" fill="#e2e2e2"/><path d="M657,620 l-3.5,12" stroke="#777" stroke-width="1.6"/>
<circle cx="704" cy="628.8" r="23.6" fill="#2a2a2a" opacity=".45"/>
<circle cx="704" cy="628" r="22.7" fill="#d81f26"/><circle cx="704" cy="628" r="22.7" fill="none" stroke="#a5141a" stroke-width="1.5" stroke-dasharray="2.5 2"/>
<circle cx="704.6" cy="629.4" r="17.4" fill="#b5141a"/>
<circle cx="705" cy="629.8" r="15" fill="url(#metal)"/><circle cx="705" cy="629.8" r="15" fill="none" stroke="#e7c7c7" stroke-width="1"/>
<circle cx="705" cy="629.6" r="9" fill="#9c9c9c"/><circle cx="703.6" cy="627.6" r="5" fill="#e2e2e2"/><path d="M712,621 l-3.5,12" stroke="#777" stroke-width="1.6"/>
<g transform="translate(607.5 628.5) rotate(45)"><rect x="-2" y="-11" width="4" height="24" rx="1.5" fill="#d9c322"/><path d="M-5.5,-16 v5 a5.5,5.5 0 0 0 11,0 v-5 l-3,0 v4.5 h-5 v-4.5 Z" fill="#d9c322"/><circle cx="0" cy="12.5" r="3.4" fill="#d9c322"/><circle cx="0" cy="12.5" r="1.2" fill="#47494a"/></g>
<path d="M735,633 a6,6 0 0 1 2,-11 a6,6 0 0 1 9,-5 a7,7 0 0 1 12,2 a5.5,5.5 0 0 1 4,9 a5,5 0 0 1 -1,7 Z" fill="#f1efef" stroke="#c9c2c2" stroke-width=".8"/>
<path d="M749,619.5 L761.5,638 L736.5,638 Z" fill="#f7f5f5" stroke="#9a3a3a" stroke-width="1.8" stroke-linejoin="round"/><rect x="748.1" y="625" width="1.9" height="7" fill="#222"/><rect x="748.1" y="633.3" width="1.9" height="2" fill="#222"/>
<text x="597.99" y="659.00" font-size="8.4" font-weight="bold" fill="#eeeeee" textLength="75.62" lengthAdjust="spacingAndGlyphs" >SERVICE GENERATOR</text>
<text x="598.21" y="659.00" font-size="8.4" font-weight="bold" fill="#eeeeee" textLength="75.62" lengthAdjust="spacingAndGlyphs" >SERVICE GENERATOR</text>
<text x="598.43" y="659.00" font-size="8.4" font-weight="bold" fill="#eeeeee" textLength="75.62" lengthAdjust="spacingAndGlyphs" >SERVICE GENERATOR</text>
<text x="597.74" y="671.40" font-size="8.4" font-weight="bold" fill="#eeeeee" textLength="78.13" lengthAdjust="spacingAndGlyphs" >REALICE UN SERVICIO</text>
<text x="597.96" y="671.40" font-size="8.4" font-weight="bold" fill="#eeeeee" textLength="78.13" lengthAdjust="spacingAndGlyphs" >REALICE UN SERVICIO</text>
<text x="598.18" y="671.40" font-size="8.4" font-weight="bold" fill="#eeeeee" textLength="78.13" lengthAdjust="spacingAndGlyphs" >REALICE UN SERVICIO</text>
<text x="597.76" y="680.00" font-size="8.4" font-weight="bold" fill="#eeeeee" textLength="59.24" lengthAdjust="spacingAndGlyphs" >DEL GENERADOR</text>
<text x="597.98" y="680.00" font-size="8.4" font-weight="bold" fill="#eeeeee" textLength="59.24" lengthAdjust="spacingAndGlyphs" >DEL GENERADOR</text>
<text x="598.20" y="680.00" font-size="8.4" font-weight="bold" fill="#eeeeee" textLength="59.24" lengthAdjust="spacingAndGlyphs" >DEL GENERADOR</text>
<text x="687.82" y="659.00" font-size="8.4" font-weight="bold" fill="#eeeeee" textLength="77.27" lengthAdjust="spacingAndGlyphs" >AUTOMATIC SHUTOFF</text>
<text x="688.04" y="659.00" font-size="8.4" font-weight="bold" fill="#eeeeee" textLength="77.27" lengthAdjust="spacingAndGlyphs" >AUTOMATIC SHUTOFF</text>
<text x="688.26" y="659.00" font-size="8.4" font-weight="bold" fill="#eeeeee" textLength="77.27" lengthAdjust="spacingAndGlyphs" >AUTOMATIC SHUTOFF</text>
<text x="687.80" y="667.60" font-size="8.4" font-weight="bold" fill="#eeeeee" textLength="65.57" lengthAdjust="spacingAndGlyphs" >SEE ACTION LABEL</text>
<text x="688.02" y="667.60" font-size="8.4" font-weight="bold" fill="#eeeeee" textLength="65.57" lengthAdjust="spacingAndGlyphs" >SEE ACTION LABEL</text>
<text x="688.24" y="667.60" font-size="8.4" font-weight="bold" fill="#eeeeee" textLength="65.57" lengthAdjust="spacingAndGlyphs" >SEE ACTION LABEL</text>
<text x="687.72" y="680.00" font-size="8.4" font-weight="bold" fill="#eeeeee" textLength="74.06" lengthAdjust="spacingAndGlyphs" >CORTE AUTOMÁTICO</text>
<text x="687.94" y="680.00" font-size="8.4" font-weight="bold" fill="#eeeeee" textLength="74.06" lengthAdjust="spacingAndGlyphs" >CORTE AUTOMÁTICO</text>
<text x="688.16" y="680.00" font-size="8.4" font-weight="bold" fill="#eeeeee" textLength="74.06" lengthAdjust="spacingAndGlyphs" >CORTE AUTOMÁTICO</text>
<text x="687.73" y="688.80" font-size="8.4" font-weight="bold" fill="#eeeeee" textLength="84.03" lengthAdjust="spacingAndGlyphs" >CONSULTE LA ETIQUETA</text>
<text x="687.95" y="688.80" font-size="8.4" font-weight="bold" fill="#eeeeee" textLength="84.03" lengthAdjust="spacingAndGlyphs" >CONSULTE LA ETIQUETA</text>
<text x="688.17" y="688.80" font-size="8.4" font-weight="bold" fill="#eeeeee" textLength="84.03" lengthAdjust="spacingAndGlyphs" >CONSULTE LA ETIQUETA</text>
<text x="687.54" y="697.50" font-size="8.4" font-weight="bold" fill="#eeeeee" textLength="39.31" lengthAdjust="spacingAndGlyphs" >DE ACCIÓN</text>
<text x="687.76" y="697.50" font-size="8.4" font-weight="bold" fill="#eeeeee" textLength="39.31" lengthAdjust="spacingAndGlyphs" >DE ACCIÓN</text>
<text x="687.98" y="697.50" font-size="8.4" font-weight="bold" fill="#eeeeee" textLength="39.31" lengthAdjust="spacingAndGlyphs" >DE ACCIÓN</text>
<rect x="615.5" y="715.5" width="107" height="84" fill="#2a2a2a" opacity=".4"/>
<rect x="616.4" y="716" width="104.5" height="81.3" fill="#c9a63a"/>
<rect x="616.4" y="716" width="104.5" height="81.3" fill="none" stroke="#e6c85a" stroke-width="1.2"/>
<rect x="623" y="721.6" width="93.79999999999995" height="71.39999999999998" rx="4" fill="#171717"/>
<rect x="625" y="723.6" width="89.79999999999995" height="67.39999999999998" rx="3" fill="none" stroke="#2e2e2e" stroke-width="1.5"/>
<rect x="632.8" y="729.8" width="71.70000000000005" height="50.700000000000045" rx="4" fill="#0c0c0c"/>
<rect x="635.3" y="732.3" width="66.70000000000005" height="45.700000000000045" rx="3" fill="#242424"/>
<rect x="639.8" y="736.8" width="57.700000000000045" height="35.700000000000045" rx="2.5" fill="url(#rocker)"/>
<circle cx="650.8" cy="756" r="5" fill="none" stroke="#a9a9a9" stroke-width="1.6"/>
<path d="M669.5,756 L680,756" stroke="#a9a9a9" stroke-width="1.8"/>
<path d="M650.8,750 v4" stroke="#3b3b3b" stroke-width="2.5"/>
<rect x="575.2" y="751.0" width="24" height="15.5" rx="1.2" fill="none" stroke="#f4f4f4" stroke-width="1.7"/><path d="M579.7,751.0 v-3.2 M594.7,751.0 v-3.2" stroke="#f4f4f4" stroke-width="3.2"/><path d="M575.2,755.2 h24" stroke="#f4f4f4" stroke-width="1.2"/><path d="M578.2,757.6 h3.4" stroke="#f4f4f4" stroke-width="1.2"/><path d="M592.7,757.6 h3.4 M594.4000000000001,756.0 v3.2" stroke="#f4f4f4" stroke-width="1.1"/><path d="M588.7,756.1 l-5.5,6 l3.4,0 l-2.2,5 l6,-6.6 l-3.4,0 Z" fill="#f4f4f4"/>
<rect x="728" y="727.6999999999999" width="24" height="15.8" rx="1.2" fill="none" stroke="#f4f4f4" stroke-width="1.7"/><path d="M732.5,727.6999999999999 v-3.2 M747.5,727.6999999999999 v-3.2" stroke="#f4f4f4" stroke-width="3.2"/><path d="M728,731.9 h24" stroke="#f4f4f4" stroke-width="1.2"/><path d="M731.5,735.8 h4 M744.5,735.8 h4 M746.5,733.8 v4" stroke="#f4f4f4" stroke-width="1.1"/><path d="M727,741.8 L753.5,726.3" stroke="#f4f4f4" stroke-width="1.6"/>
<path d="M735.5,764.5 h12 v2.5" fill="none" stroke="#f4f4f4" stroke-width="1.8"/><circle cx="741.5" cy="778" r="12" fill="none" stroke="#f4f4f4" stroke-width="2.2"/><path d="M732.8,770 L750,786.5" stroke="#f4f4f4" stroke-width="2.2"/>
<circle cx="789.8" cy="758.2" r="19.8" fill="#2a2a2a" opacity=".5"/>
<circle cx="789.6" cy="757.4" r="18.6" fill="url(#amber)"/>
<circle cx="789.6" cy="757.4" r="12.2" fill="none" stroke="#e98a1a" stroke-width="1.6" opacity=".85"/>
<circle cx="789.6" cy="757.8" r="6.8" fill="#f7c02c"/><circle cx="789.6" cy="757.8" r="3.6" fill="none" stroke="#e59a16" stroke-width="1.2"/>
<rect x="817" y="750.6" width="22" height="17" rx="1.2" fill="none" stroke="#f4f4f4" stroke-width="1.7"/><path d="M821.5,750.6 v-3.2 M834.5,750.6 v-3.2" stroke="#f4f4f4" stroke-width="3.2"/><path d="M817,754.8000000000001 h22" stroke="#f4f4f4" stroke-width="1.2"/><path d="M821,760.2 h4.5 M833.5,757.7 v5" stroke="#f4f4f4" stroke-width="1.5"/>
<path d="M844.2,759.5 l3.6,4.6 l7.6,-11.6" fill="none" stroke="#f4f4f4" stroke-width="2.6"/>
<path d="M765,823 v8.5" stroke="#f4f4f4" stroke-width="1.4"/><path d="M753.5,833 h23" stroke="#f4f4f4" stroke-width="1.4"/><path d="M754,837.2 h8 v-2.6 h6.5 M776,837.2 h-6" fill="none" stroke="#f4f4f4" stroke-width="1.2"/><path d="M754,856 h6 v-7.6 h10 v7.6 h6 M754,859 h5.6 M776,859 h-5.6" fill="none" stroke="#f4f4f4" stroke-width="1.3"/><circle cx="765" cy="866.5" r="3.5" fill="none" stroke="#f4f4f4" stroke-width="1.4"/>
<polygon points="793.2,901.9 779.1,923.7 750.9,923.7 736.8,901.9 750.9,880.1 779.1,880.1" fill="#2a2a2a" opacity=".5" transform="translate(0 1.5)"/>
<polygon points="793.2,901.9 779.1,923.7 750.9,923.7 736.8,901.9 750.9,880.1 779.1,880.1" fill="url(#hexg)" stroke="#8f8a7c" stroke-width="1"/>
<circle cx="765" cy="901.9" r="20" fill="#cbc7bb"/><circle cx="765" cy="901.9" r="20" fill="none" stroke="#8f8a7c" stroke-width="1.2"/>
<circle cx="765" cy="901.9" r="16.6" fill="#efece4"/>
<circle cx="765" cy="902.5" r="14.4" fill="#1c1c1c"/><circle cx="765" cy="902.6999999999999" r="11.4" fill="#090909"/>
<path d="M765,984.5 v8.5" stroke="#f4f4f4" stroke-width="1.4"/><path d="M753.5,994.5 h23" stroke="#f4f4f4" stroke-width="1.4"/><path d="M754,998.7 h8 v-2.6 h6.5 M776,998.7 h-6" fill="none" stroke="#f4f4f4" stroke-width="1.2"/><path d="M754,1017.5 h6 v-7.6 h10 v7.6 h6 M754,1020.5 h5.6 M776,1020.5 h-5.6" fill="none" stroke="#f4f4f4" stroke-width="1.3"/><circle cx="765" cy="1028.0" r="3.5" fill="none" stroke="#f4f4f4" stroke-width="1.4"/>
<polygon points="793.2,1064.4 779.1,1086.2 750.9,1086.2 736.8,1064.4 750.9,1042.6 779.1,1042.6" fill="#2a2a2a" opacity=".5" transform="translate(0 1.5)"/>
<polygon points="793.2,1064.4 779.1,1086.2 750.9,1086.2 736.8,1064.4 750.9,1042.6 779.1,1042.6" fill="url(#hexg)" stroke="#8f8a7c" stroke-width="1"/>
<circle cx="765" cy="1064.4" r="20" fill="#cbc7bb"/><circle cx="765" cy="1064.4" r="20" fill="none" stroke="#8f8a7c" stroke-width="1.2"/>
<circle cx="765" cy="1064.4" r="16.6" fill="#efece4"/>
<circle cx="765" cy="1065.0" r="14.4" fill="#1c1c1c"/><circle cx="765" cy="1065.2" r="11.4" fill="#090909"/>
<text x="742.46" y="952.80" font-size="20.5" font-weight="bold" fill="#f4f4f4" textLength="47.90" lengthAdjust="spacingAndGlyphs" >AC 20A</text>
<text x="742.76" y="952.80" font-size="20.5" font-weight="bold" fill="#f4f4f4" textLength="47.90" lengthAdjust="spacingAndGlyphs" >AC 20A</text>
<text x="743.06" y="952.80" font-size="20.5" font-weight="bold" fill="#f4f4f4" textLength="47.90" lengthAdjust="spacingAndGlyphs" >AC 20A</text>
<text x="742.46" y="1116.90" font-size="20.5" font-weight="bold" fill="#f4f4f4" textLength="47.90" lengthAdjust="spacingAndGlyphs" >AC 20A</text>
<text x="742.76" y="1116.90" font-size="20.5" font-weight="bold" fill="#f4f4f4" textLength="47.90" lengthAdjust="spacingAndGlyphs" >AC 20A</text>
<text x="743.06" y="1116.90" font-size="20.5" font-weight="bold" fill="#f4f4f4" textLength="47.90" lengthAdjust="spacingAndGlyphs" >AC 20A</text>
<text x="840.34" y="573.00" font-size="21" font-weight="bold" fill="#f4f4f4" textLength="38.26" lengthAdjust="spacingAndGlyphs" >Reset</text>
<text x="840.64" y="573.00" font-size="21" font-weight="bold" fill="#f4f4f4" textLength="38.26" lengthAdjust="spacingAndGlyphs" >Reset</text>
<text x="840.94" y="573.00" font-size="21" font-weight="bold" fill="#f4f4f4" textLength="38.26" lengthAdjust="spacingAndGlyphs" >Reset</text>
<text x="844.84" y="585.60" font-size="10.5" font-weight="bold" fill="#f4f4f4" textLength="30.06" lengthAdjust="spacingAndGlyphs" >Reiniciar</text>
<text x="844.94" y="585.60" font-size="10.5" font-weight="bold" fill="#f4f4f4" textLength="30.06" lengthAdjust="spacingAndGlyphs" >Reiniciar</text>
<text x="845.04" y="585.60" font-size="10.5" font-weight="bold" fill="#f4f4f4" textLength="30.06" lengthAdjust="spacingAndGlyphs" >Reiniciar</text>
<circle cx="863.6" cy="627.2" r="31.2" fill="#2a2a2a" opacity=".5"/>
<circle cx="863.4" cy="626.25" r="30.3" fill="#0b0b0b"/><circle cx="863.4" cy="626.25" r="27" fill="none" stroke="#222" stroke-width="2"/>
<circle cx="863.4" cy="624.4" r="21.3" fill="url(#redbtn)"/>
<text x="881.91" y="700.30" font-size="21.5" font-weight="bold" fill="#f4f4f4" textLength="64.91" lengthAdjust="spacingAndGlyphs" >Eco Mode</text>
<text x="882.21" y="700.30" font-size="21.5" font-weight="bold" fill="#f4f4f4" textLength="64.91" lengthAdjust="spacingAndGlyphs" >Eco Mode</text>
<text x="882.51" y="700.30" font-size="21.5" font-weight="bold" fill="#f4f4f4" textLength="64.91" lengthAdjust="spacingAndGlyphs" >Eco Mode</text>
<text x="876.91" y="712.00" font-size="10.8" font-weight="bold" fill="#f4f4f4" textLength="75.65" lengthAdjust="spacingAndGlyphs" >Combustible Eficiente</text>
<text x="877.01" y="712.00" font-size="10.8" font-weight="bold" fill="#f4f4f4" textLength="75.65" lengthAdjust="spacingAndGlyphs" >Combustible Eficiente</text>
<text x="877.11" y="712.00" font-size="10.8" font-weight="bold" fill="#f4f4f4" textLength="75.65" lengthAdjust="spacingAndGlyphs" >Combustible Eficiente</text>
<rect x="869.8" y="723" width="89" height="67.5" rx="4" fill="#2a2a2a" opacity=".45"/>
<rect x="870.8" y="723.6" width="86.60000000000002" height="64.89999999999998" rx="3" fill="#171717"/>
<rect x="872.8" y="725.6" width="82.60000000000002" height="60.89999999999998" rx="3" fill="none" stroke="#2e2e2e" stroke-width="1.5"/>
<rect x="880.3" y="729.8" width="67.70000000000005" height="49.200000000000045" rx="4" fill="#0c0c0c"/>
<rect x="882.8" y="732.3" width="62.700000000000045" height="44.200000000000045" rx="3" fill="#242424"/>
<rect x="887.3" y="736.8" width="53.700000000000045" height="34.200000000000045" rx="2.5" fill="url(#rocker)"/>
<circle cx="896.4" cy="755.5" r="4.8" fill="none" stroke="#e0e0e0" stroke-width="1.6"/><path d="M913.4,755.5 h10.2" stroke="#e0e0e0" stroke-width="1.8"/>
<path d="M859.5,887 L983.5,887 L1015.5,919 L1015.5,1046 L983.5,1078 L859.5,1078 L827.5,1046 L827.5,919 Z" fill="#1d1d1d" opacity=".5"/>
<path d="M860,888 L983,888 L1014,919 L1014,1044.3 L983,1075.3 L860,1075.3 L829,1044.3 L829,919 Z" fill="#292929" stroke="#3a3a3a" stroke-width="1.2"/>
<path d="M862.5,893.5 L980.5,893.5 L1008.5,921.5 L1008.5,1041.8 L980.5,1069.8 L862.5,1069.8 L834.5,1041.8 L834.5,921.5 Z" fill="#303030" stroke="#3d3d3d" stroke-width="1"/>
<path d="M863.5,898.5 L982,898.5 L1006,922.5 L1006,1041.5 L982,1065.5 L863.5,1065.5 L839.5,1041.5 L839.5,922.5 Z" fill="#353535"/>
<path d="M865,902.5 L982.2,902.5 L1003.2,923.5 L1003.2,1040.8 L982.2,1061.8 L865,1061.8 L844,1040.8 L844,923.5 Z" fill="#191919"/>
<circle cx="922.5" cy="986" r="73" fill="#0d0d0d"/>
<circle cx="922.5" cy="984.5" r="72.6" fill="#3a3a3a"/><circle cx="922.5" cy="984.5" r="71.8" fill="none" stroke="#555" stroke-width="1.3"/>
<circle cx="922.5" cy="984.5" r="57" fill="#333"/><circle cx="922.5" cy="984.5" r="57" fill="none" stroke="#262626" stroke-width="1.2"/>
<path d="M891.4,947.4 A48.4,48.4 0 0 1 935.0,937.7" fill="none" stroke="#050505" stroke-width="16"/>
<path d="M925.2,946.6 A38,38 0 0 1 932.3,947.8" fill="none" stroke="#050505" stroke-width="8"/>
<path d="M951.6,945.8 A48.4,48.4 0 0 1 970.5,990.4" fill="none" stroke="#050505" stroke-width="16"/>
<path d="M893.4,1023.2 A48.4,48.4 0 0 1 874.4,979.4" fill="none" stroke="#050505" stroke-width="16"/>
<path d="M955.5,1019.9 A48.4,48.4 0 0 1 916.6,1032.5" fill="none" stroke="#050505" stroke-width="16"/>
<circle cx="922.5" cy="984.5" r="40.4" fill="#3c3c3c"/>
<path id="tw30" d="M858.5,984.5 A64,64 0 0 1 986.5,984.5 A64,64 0 0 1 858.5,984.5" fill="none"/>
<text font-size="9.5" fill="#222" letter-spacing=".6" font-weight="bold"><textPath href="#tw30" startOffset="14%">NEMA L14-30R</textPath><textPath href="#tw30" startOffset="42%">30A 125/250V</textPath><textPath href="#tw30" startOffset="70%">TURN &amp; PULL</textPath></text>
<text x="865.25" y="1140.30" font-size="20.5" font-weight="bold" fill="#f4f4f4" textLength="114.22" lengthAdjust="spacingAndGlyphs" >AC 120/240V 30A</text>
<text x="865.55" y="1140.30" font-size="20.5" font-weight="bold" fill="#f4f4f4" textLength="114.22" lengthAdjust="spacingAndGlyphs" >AC 120/240V 30A</text>
<text x="865.85" y="1140.30" font-size="20.5" font-weight="bold" fill="#f4f4f4" textLength="114.22" lengthAdjust="spacingAndGlyphs" >AC 120/240V 30A</text>
<text x="894.39" y="1161.25" font-size="20.5" font-weight="bold" fill="#f4f4f4" textLength="54.71" lengthAdjust="spacingAndGlyphs" >L14-30R</text>
<text x="894.69" y="1161.25" font-size="20.5" font-weight="bold" fill="#f4f4f4" textLength="54.71" lengthAdjust="spacingAndGlyphs" >L14-30R</text>
<text x="894.99" y="1161.25" font-size="20.5" font-weight="bold" fill="#f4f4f4" textLength="54.71" lengthAdjust="spacingAndGlyphs" >L14-30R</text>
<text x="1013.67" y="562.20" font-size="21.5" font-weight="bold" fill="#f4f4f4" textLength="47.08" lengthAdjust="spacingAndGlyphs" >AC 32A</text>
<text x="1013.97" y="562.20" font-size="21.5" font-weight="bold" fill="#f4f4f4" textLength="47.08" lengthAdjust="spacingAndGlyphs" >AC 32A</text>
<text x="1014.27" y="562.20" font-size="21.5" font-weight="bold" fill="#f4f4f4" textLength="47.08" lengthAdjust="spacingAndGlyphs" >AC 32A</text>
<text x="1151.27" y="562.20" font-size="21.5" font-weight="bold" fill="#f4f4f4" textLength="47.49" lengthAdjust="spacingAndGlyphs" >AC 30A</text>
<text x="1151.57" y="562.20" font-size="21.5" font-weight="bold" fill="#f4f4f4" textLength="47.49" lengthAdjust="spacingAndGlyphs" >AC 30A</text>
<text x="1151.87" y="562.20" font-size="21.5" font-weight="bold" fill="#f4f4f4" textLength="47.49" lengthAdjust="spacingAndGlyphs" >AC 30A</text>
<text x="1284.06" y="562.20" font-size="21.5" font-weight="bold" fill="#f4f4f4" textLength="47.69" lengthAdjust="spacingAndGlyphs" >AC 50A</text>
<text x="1284.36" y="562.20" font-size="21.5" font-weight="bold" fill="#f4f4f4" textLength="47.69" lengthAdjust="spacingAndGlyphs" >AC 50A</text>
<text x="1284.66" y="562.20" font-size="21.5" font-weight="bold" fill="#f4f4f4" textLength="47.69" lengthAdjust="spacingAndGlyphs" >AC 50A</text>
<circle cx="1010.8" cy="598.8" r="11.8" fill="#1d1d1d" opacity=".6"/><circle cx="1010.8" cy="597.8" r="10.8" fill="url(#scr)"/><path d="M1005.8,597.8 L1015.8,597.8 M1010.8,592.8 L1010.8,602.8" stroke="#070707" stroke-width="2.6" stroke-linecap="round"/><circle cx="1008.3" cy="600.3" r="1.1" fill="#ccc"/><circle cx="1013.3" cy="600.3" r="1" fill="#aaa"/><path d="M1004.3,593.3 A8,8 0 0 1 1012.8,590.0" fill="none" stroke="#8a8a8a" stroke-width="1.3" opacity=".8"/>
<circle cx="1075.4" cy="598.8" r="11.8" fill="#1d1d1d" opacity=".6"/><circle cx="1075.4" cy="597.8" r="10.8" fill="url(#scr)"/><path d="M1070.4,597.8 L1080.4,597.8 M1075.4,592.8 L1075.4,602.8" stroke="#070707" stroke-width="2.6" stroke-linecap="round"/><circle cx="1072.9" cy="600.3" r="1.1" fill="#ccc"/><circle cx="1077.9" cy="600.3" r="1" fill="#aaa"/><path d="M1068.9,593.3 A8,8 0 0 1 1077.4,590.0" fill="none" stroke="#8a8a8a" stroke-width="1.3" opacity=".8"/>
<circle cx="1146.4" cy="598.8" r="11.8" fill="#1d1d1d" opacity=".6"/><circle cx="1146.4" cy="597.8" r="10.8" fill="url(#scr)"/><path d="M1141.4,597.8 L1151.4,597.8 M1146.4,592.8 L1146.4,602.8" stroke="#070707" stroke-width="2.6" stroke-linecap="round"/><circle cx="1143.9" cy="600.3" r="1.1" fill="#ccc"/><circle cx="1148.9" cy="600.3" r="1" fill="#aaa"/><path d="M1139.9,593.3 A8,8 0 0 1 1148.4,590.0" fill="none" stroke="#8a8a8a" stroke-width="1.3" opacity=".8"/>
<circle cx="1210" cy="598.8" r="11.8" fill="#1d1d1d" opacity=".6"/><circle cx="1210" cy="597.8" r="10.8" fill="url(#scr)"/><path d="M1205,597.8 L1215,597.8 M1210,592.8 L1210,602.8" stroke="#070707" stroke-width="2.6" stroke-linecap="round"/><circle cx="1207.5" cy="600.3" r="1.1" fill="#ccc"/><circle cx="1212.5" cy="600.3" r="1" fill="#aaa"/><path d="M1203.5,593.3 A8,8 0 0 1 1212,590.0" fill="none" stroke="#8a8a8a" stroke-width="1.3" opacity=".8"/>
<circle cx="1279.7" cy="598.8" r="11.8" fill="#1d1d1d" opacity=".6"/><circle cx="1279.7" cy="597.8" r="10.8" fill="url(#scr)"/><path d="M1274.7,597.8 L1284.7,597.8 M1279.7,592.8 L1279.7,602.8" stroke="#070707" stroke-width="2.6" stroke-linecap="round"/><circle cx="1277.2" cy="600.3" r="1.1" fill="#ccc"/><circle cx="1282.2" cy="600.3" r="1" fill="#aaa"/><path d="M1273.2,593.3 A8,8 0 0 1 1281.7,590.0" fill="none" stroke="#8a8a8a" stroke-width="1.3" opacity=".8"/>
<circle cx="1344" cy="598.8" r="11.8" fill="#1d1d1d" opacity=".6"/><circle cx="1344" cy="597.8" r="10.8" fill="url(#scr)"/><path d="M1339,597.8 L1349,597.8 M1344,592.8 L1344,602.8" stroke="#070707" stroke-width="2.6" stroke-linecap="round"/><circle cx="1341.5" cy="600.3" r="1.1" fill="#ccc"/><circle cx="1346.5" cy="600.3" r="1" fill="#aaa"/><path d="M1337.5,593.3 A8,8 0 0 1 1346,590.0" fill="none" stroke="#8a8a8a" stroke-width="1.3" opacity=".8"/>
<circle cx="1009.4" cy="744.2" r="11.6" fill="#1d1d1d" opacity=".6"/><circle cx="1009.4" cy="743.2" r="10.6" fill="url(#scr)"/><path d="M1004.4,743.2 L1014.4,743.2 M1009.4,738.2 L1009.4,748.2" stroke="#070707" stroke-width="2.6" stroke-linecap="round"/><circle cx="1006.9" cy="745.7" r="1.1" fill="#ccc"/><circle cx="1011.9" cy="745.7" r="1" fill="#aaa"/><path d="M1002.9,738.7 A8,8 0 0 1 1011.4,735.4000000000001" fill="none" stroke="#8a8a8a" stroke-width="1.3" opacity=".8"/>
<circle cx="1074.2" cy="744.2" r="11.6" fill="#1d1d1d" opacity=".6"/><circle cx="1074.2" cy="743.2" r="10.6" fill="url(#scr)"/><path d="M1069.2,743.2 L1079.2,743.2 M1074.2,738.2 L1074.2,748.2" stroke="#070707" stroke-width="2.6" stroke-linecap="round"/><circle cx="1071.7" cy="745.7" r="1.1" fill="#ccc"/><circle cx="1076.7" cy="745.7" r="1" fill="#aaa"/><path d="M1067.7,738.7 A8,8 0 0 1 1076.2,735.4000000000001" fill="none" stroke="#8a8a8a" stroke-width="1.3" opacity=".8"/>
<circle cx="1145.9" cy="744.2" r="11.6" fill="#1d1d1d" opacity=".6"/><circle cx="1145.9" cy="743.2" r="10.6" fill="url(#scr)"/><path d="M1140.9,743.2 L1150.9,743.2 M1145.9,738.2 L1145.9,748.2" stroke="#070707" stroke-width="2.6" stroke-linecap="round"/><circle cx="1143.4" cy="745.7" r="1.1" fill="#ccc"/><circle cx="1148.4" cy="745.7" r="1" fill="#aaa"/><path d="M1139.4,738.7 A8,8 0 0 1 1147.9,735.4000000000001" fill="none" stroke="#8a8a8a" stroke-width="1.3" opacity=".8"/>
<circle cx="1209.4" cy="744.2" r="11.6" fill="#1d1d1d" opacity=".6"/><circle cx="1209.4" cy="743.2" r="10.6" fill="url(#scr)"/><path d="M1204.4,743.2 L1214.4,743.2 M1209.4,738.2 L1209.4,748.2" stroke="#070707" stroke-width="2.6" stroke-linecap="round"/><circle cx="1206.9" cy="745.7" r="1.1" fill="#ccc"/><circle cx="1211.9" cy="745.7" r="1" fill="#aaa"/><path d="M1202.9,738.7 A8,8 0 0 1 1211.4,735.4000000000001" fill="none" stroke="#8a8a8a" stroke-width="1.3" opacity=".8"/>
<circle cx="1279.2" cy="744.2" r="11.6" fill="#1d1d1d" opacity=".6"/><circle cx="1279.2" cy="743.2" r="10.6" fill="url(#scr)"/><path d="M1274.2,743.2 L1284.2,743.2 M1279.2,738.2 L1279.2,748.2" stroke="#070707" stroke-width="2.6" stroke-linecap="round"/><circle cx="1276.7" cy="745.7" r="1.1" fill="#ccc"/><circle cx="1281.7" cy="745.7" r="1" fill="#aaa"/><path d="M1272.7,738.7 A8,8 0 0 1 1281.2,735.4000000000001" fill="none" stroke="#8a8a8a" stroke-width="1.3" opacity=".8"/>
<circle cx="1343.2" cy="744.2" r="11.6" fill="#1d1d1d" opacity=".6"/><circle cx="1343.2" cy="743.2" r="10.6" fill="url(#scr)"/><path d="M1338.2,743.2 L1348.2,743.2 M1343.2,738.2 L1343.2,748.2" stroke="#070707" stroke-width="2.6" stroke-linecap="round"/><circle cx="1340.7" cy="745.7" r="1.1" fill="#ccc"/><circle cx="1345.7" cy="745.7" r="1" fill="#aaa"/><path d="M1336.7,738.7 A8,8 0 0 1 1345.2,735.4000000000001" fill="none" stroke="#8a8a8a" stroke-width="1.3" opacity=".8"/>
<circle cx="1039.6" cy="719.6" r="7.3" fill="none" stroke="#f4f4f4" stroke-width="2.2"/>
<circle cx="1174.2" cy="719.6" r="7.3" fill="none" stroke="#f4f4f4" stroke-width="2.2"/>
<circle cx="1309.4" cy="719.6" r="7.3" fill="none" stroke="#f4f4f4" stroke-width="2.2"/>
<rect x="1308.4" y="598.5" width="2" height="11" fill="#f4f4f4"/>
<rect x="982.7" y="627" width="120.2" height="54.10000000000002" rx="27" fill="#1d1d1d" opacity=".5"/>
<rect x="983.7" y="627" width="118.2" height="51.60000000000002" rx="26" fill="url(#brk)" stroke="#0f0f0f" stroke-width="1.5"/>
<path d="M1042.8,633 V677.6" stroke="#2f2f2f" stroke-width="1.2"/>
<circle cx="1009.7" cy="652.8" r="24" fill="none" stroke="#2c2c2c" stroke-width="1"/><circle cx="1075.9" cy="652.8" r="24" fill="none" stroke="#2c2c2c" stroke-width="1"/>
<rect x="996.9000000000001" y="608.2" width="90.09999999999991" height="15.6" rx="2" fill="url(#bar)"/>
<path d="M998.2,608.2 h24.5 v50 q0,3 -2,5 l-1,13.5 h-17 l-1,-13.5 q-3.5,-2 -3.5,-6 Z" fill="url(#lever)"/>
<rect x="1001.7" y="660" width="17" height="17" fill="#0b0b0b"/>
<path d="M998.7,614.5 h23.5" stroke="#4a4a4a" stroke-width="1"/>
<text x="1003.99" y="658.00" font-size="9.6" font-weight="bold" fill="#d0d0d0" textLength="11.72" lengthAdjust="spacingAndGlyphs" >ON</text>
<rect x="1009.1" y="660.3" width="1.5" height="4.6" fill="#d0d0d0"/>
<path d="M1061.2,608.2 h24.5 v50 q0,3 -2,5 l-1,13.5 h-17 l-1,-13.5 q-3.5,-2 -3.5,-6 Z" fill="url(#lever)"/>
<rect x="1064.7" y="660" width="17" height="17" fill="#0b0b0b"/>
<path d="M1061.7,614.5 h23.5" stroke="#4a4a4a" stroke-width="1"/>
<text x="1066.99" y="658.00" font-size="9.6" font-weight="bold" fill="#d0d0d0" textLength="11.72" lengthAdjust="spacingAndGlyphs" >ON</text>
<rect x="1072.1000000000001" y="660.3" width="1.5" height="4.6" fill="#d0d0d0"/>
<rect x="1118.5" y="627" width="120.2" height="54.10000000000002" rx="27" fill="#1d1d1d" opacity=".5"/>
<rect x="1119.5" y="627" width="118.2" height="51.60000000000002" rx="26" fill="url(#brk)" stroke="#0f0f0f" stroke-width="1.5"/>
<path d="M1178.6,633 V677.6" stroke="#2f2f2f" stroke-width="1.2"/>
<circle cx="1145.5" cy="652.8" r="24" fill="none" stroke="#2c2c2c" stroke-width="1"/><circle cx="1211.7" cy="652.8" r="24" fill="none" stroke="#2c2c2c" stroke-width="1"/>
<rect x="1132.7" y="608.2" width="90.09999999999991" height="15.6" rx="2" fill="url(#bar)"/>
<path d="M1134.0,608.2 h24.5 v50 q0,3 -2,5 l-1,13.5 h-17 l-1,-13.5 q-3.5,-2 -3.5,-6 Z" fill="url(#lever)"/>
<rect x="1137.5" y="660" width="17" height="17" fill="#0b0b0b"/>
<path d="M1134.5,614.5 h23.5" stroke="#4a4a4a" stroke-width="1"/>
<text x="1139.79" y="658.00" font-size="9.6" font-weight="bold" fill="#d0d0d0" textLength="11.72" lengthAdjust="spacingAndGlyphs" >ON</text>
<rect x="1144.9" y="660.3" width="1.5" height="4.6" fill="#d0d0d0"/>
<path d="M1197.0,608.2 h24.5 v50 q0,3 -2,5 l-1,13.5 h-17 l-1,-13.5 q-3.5,-2 -3.5,-6 Z" fill="url(#lever)"/>
<rect x="1200.5" y="660" width="17" height="17" fill="#0b0b0b"/>
<path d="M1197.5,614.5 h23.5" stroke="#4a4a4a" stroke-width="1"/>
<text x="1202.79" y="658.00" font-size="9.6" font-weight="bold" fill="#d0d0d0" textLength="11.72" lengthAdjust="spacingAndGlyphs" >ON</text>
<rect x="1207.9" y="660.3" width="1.5" height="4.6" fill="#d0d0d0"/>
<rect x="1252.4" y="627" width="120.2" height="54.10000000000002" rx="27" fill="#1d1d1d" opacity=".5"/>
<rect x="1253.4" y="627" width="118.2" height="51.60000000000002" rx="26" fill="url(#brk)" stroke="#0f0f0f" stroke-width="1.5"/>
<path d="M1312.5,633 V677.6" stroke="#2f2f2f" stroke-width="1.2"/>
<circle cx="1279.4" cy="652.8" r="24" fill="none" stroke="#2c2c2c" stroke-width="1"/><circle cx="1345.6000000000001" cy="652.8" r="24" fill="none" stroke="#2c2c2c" stroke-width="1"/>
<rect x="1266.6000000000001" y="608.2" width="90.09999999999991" height="15.6" rx="2" fill="url(#bar)"/>
<path d="M1267.9,608.2 h24.5 v50 q0,3 -2,5 l-1,13.5 h-17 l-1,-13.5 q-3.5,-2 -3.5,-6 Z" fill="url(#lever)"/>
<rect x="1271.4" y="660" width="17" height="17" fill="#0b0b0b"/>
<path d="M1268.4,614.5 h23.5" stroke="#4a4a4a" stroke-width="1"/>
<text x="1273.69" y="658.00" font-size="9.6" font-weight="bold" fill="#d0d0d0" textLength="11.72" lengthAdjust="spacingAndGlyphs" >ON</text>
<rect x="1278.8000000000002" y="660.3" width="1.5" height="4.6" fill="#d0d0d0"/>
<path d="M1330.9,608.2 h24.5 v50 q0,3 -2,5 l-1,13.5 h-17 l-1,-13.5 q-3.5,-2 -3.5,-6 Z" fill="url(#lever)"/>
<rect x="1334.4" y="660" width="17" height="17" fill="#0b0b0b"/>
<path d="M1331.4,614.5 h23.5" stroke="#4a4a4a" stroke-width="1"/>
<text x="1336.69" y="658.00" font-size="9.6" font-weight="bold" fill="#d0d0d0" textLength="11.72" lengthAdjust="spacingAndGlyphs" >ON</text>
<rect x="1341.8000000000002" y="660.3" width="1.5" height="4.6" fill="#d0d0d0"/>
<path d="M1066.5,862 L1236.7,862 L1271.7,897 L1271.7,1069 L1236.7,1104 L1066.5,1104 L1031.5,1069 L1031.5,897 Z" fill="#1d1d1d" opacity=".5"/>
<path d="M1067,863 L1236.2,863 L1270.2,897 L1270.2,1067 L1236.2,1101 L1067,1101 L1033,1067 L1033,897 Z" fill="#262626" stroke="#3a3a3a" stroke-width="1.2"/>
<path d="M1070,869 L1233.2,869 L1264.2,900 L1264.2,1064 L1233.2,1095 L1070,1095 L1039,1064 L1039,900 Z" fill="#2d2d2d" stroke="#3c3c3c" stroke-width="1"/>
<path d="M1072,874.5 L1231.5,874.5 L1259.5,902.5 L1259.5,1061.5 L1231.5,1089.5 L1072,1089.5 L1044,1061.5 L1044,902.5 Z" fill="#333" />
<path d="M1073.2,880 L1230.8,880 L1254.8,904 L1254.8,1060 L1230.8,1084 L1073.2,1084 L1049.2,1060 L1049.2,904 Z" fill="#161616"/>
<circle cx="1154.9" cy="985" r="96" fill="#0c0c0c"/>
<circle cx="1154.9" cy="983.2" r="95.9" fill="url(#face50)"/><circle cx="1154.9" cy="983.2" r="95.2" fill="none" stroke="#4a4a4a" stroke-width="1.2"/>
<path d="M1138.6,901.2 h38.2 v19 a19.1,19.1 0 0 1 -38.2,0 Z" fill="#0a0a08"/><path d="M1143.5,905 h28.5 v15 a14.2,14.2 0 0 1 -28.5,0 Z" fill="url(#brass)"/><rect x="1156.5" y="905" width="2.2" height="29" fill="#6d5620"/>
<rect x="1080.9" y="952.4" width="22.8" height="58.5" fill="#090909"/><rect x="1084.5" y="959" width="8.5" height="46" fill="url(#brass)"/>
<rect x="1208.5" y="954.8" width="23.5" height="58.5" fill="#090909"/><rect x="1212.5" y="961" width="9" height="46" fill="url(#brass)"/>
<rect x="1144.3" y="1002.7" width="22.7" height="58.5" fill="#090909"/><rect x="1148" y="1009" width="8.5" height="47" fill="url(#brass)"/>
<circle cx="1155.7" cy="984" r="13" fill="#0a0a0a"/>
<path id="t50a" d="M1074,1008 A84,84 0 0 0 1236,1012" fill="none"/>
<text font-size="10" fill="#1a1a1a"><textPath href="#t50a" startOffset="16%">14-50R</textPath><textPath href="#t50a" startOffset="60%">50A125/250V~</textPath></text>
<text x="1096.55" y="1171.60" font-size="20.5" font-weight="bold" fill="#f4f4f4" textLength="114.83" lengthAdjust="spacingAndGlyphs" >AC 120/240V 50A</text>
<text x="1096.85" y="1171.60" font-size="20.5" font-weight="bold" fill="#f4f4f4" textLength="114.83" lengthAdjust="spacingAndGlyphs" >AC 120/240V 50A</text>
<text x="1097.15" y="1171.60" font-size="20.5" font-weight="bold" fill="#f4f4f4" textLength="114.83" lengthAdjust="spacingAndGlyphs" >AC 120/240V 50A</text>
<text x="1130.14" y="1192.80" font-size="20.5" font-weight="bold" fill="#f4f4f4" textLength="47.05" lengthAdjust="spacingAndGlyphs" >14-50R</text>
<text x="1130.44" y="1192.80" font-size="20.5" font-weight="bold" fill="#f4f4f4" textLength="47.05" lengthAdjust="spacingAndGlyphs" >14-50R</text>
<text x="1130.74" y="1192.80" font-size="20.5" font-weight="bold" fill="#f4f4f4" textLength="47.05" lengthAdjust="spacingAndGlyphs" >14-50R</text>
<text x="1261.01" y="818.00" font-size="20.5" font-weight="bold" fill="#f4f4f4" textLength="117.19" lengthAdjust="spacingAndGlyphs" >Parallel Operation</text>
<text x="1261.31" y="818.00" font-size="20.5" font-weight="bold" fill="#f4f4f4" textLength="117.19" lengthAdjust="spacingAndGlyphs" >Parallel Operation</text>
<text x="1261.61" y="818.00" font-size="20.5" font-weight="bold" fill="#f4f4f4" textLength="117.19" lengthAdjust="spacingAndGlyphs" >Parallel Operation</text>
<text x="1255.39" y="830.00" font-size="9.6" font-weight="bold" fill="#f4f4f4" textLength="128.39" lengthAdjust="spacingAndGlyphs" >Salida en Paralelo Operation Parallele</text>
<text x="1255.51" y="830.00" font-size="9.6" font-weight="bold" fill="#f4f4f4" textLength="128.39" lengthAdjust="spacingAndGlyphs" >Salida en Paralelo Operation Parallele</text>
<text x="1255.63" y="830.00" font-size="9.6" font-weight="bold" fill="#f4f4f4" textLength="128.39" lengthAdjust="spacingAndGlyphs" >Salida en Paralelo Operation Parallele</text>
<rect x="1280.9" y="850.7" width="81.5" height="80.79999999999995" rx="13" fill="#1d1d1d" opacity=".45"/>
<rect x="1281.9" y="850.7" width="79.5" height="78.29999999999995" rx="12" fill="#d8242a"/>
<rect x="1290" y="857.8" width="63" height="64.20000000000005" rx="9" fill="#ee5752"/>
<rect x="1300.4" y="868.5" width="40.899999999999864" height="42.299999999999955" rx="12" fill="#0b0909"/>
<rect x="1306.8000000000002" y="874.9" width="28.099999999999863" height="29.499999999999954" rx="6.5" fill="#d65f5b"/>
<circle cx="1321" cy="889.9" r="10.3" fill="#0b0506"/>
<rect x="1303" y="848.7" width="36" height="5" rx="2" fill="#d8242a"/>
<rect x="1280.4" y="942" width="82.0" height="83.39999999999998" rx="13" fill="#1d1d1d" opacity=".45"/>
<rect x="1281.4" y="942" width="80.0" height="80.89999999999998" rx="12" fill="#d6d5d0"/>
<rect x="1290" y="950.5" width="63" height="64.10000000000002" rx="9" fill="#efede7"/>
<rect x="1300.9" y="962.3" width="40.399999999999864" height="41.60000000000002" rx="12" fill="#0b0909"/>
<rect x="1307.3000000000002" y="968.6999999999999" width="27.599999999999863" height="28.800000000000022" rx="6.5" fill="#f3f1ea"/>
<circle cx="1321.3" cy="983.7" r="10.3" fill="#2a1c14"/>
<rect x="1303" y="940" width="36" height="5" rx="2" fill="#d6d5d0"/>
<rect x="1282" y="1030" width="78" height="82.09999999999991" rx="13" fill="#1d1d1d" opacity=".45"/>
<rect x="1283" y="1030" width="76" height="79.59999999999991" rx="12" fill="#232323"/>
<rect x="1287.8" y="1039" width="64.90000000000009" height="63.5" rx="9" fill="#3c3a38"/>
<rect x="1298.5" y="1047.8" width="42.799999999999955" height="44.0" rx="12" fill="#0b0909"/>
<rect x="1304.9" y="1054.2" width="29.999999999999954" height="31.2" rx="6.5" fill="#6b6965"/>
<circle cx="1319.9" cy="1069.2" r="10.3" fill="#17130f"/>
<rect x="1303" y="1028" width="36" height="5" rx="2" fill="#232323"/>
<path d="M1423.4,930.5 L1438.6,956 L1408.2,956 Z" fill="#e9dd2c" stroke="#e9dd2c" stroke-width="1.5" stroke-linejoin="round"/><rect x="1422.2" y="937.5" width="2.5" height="10.5" fill="#222"/><rect x="1422.2" y="949.8" width="2.5" height="2.8" fill="#222"/>
<circle cx="1423.2" cy="995.6" r="16.6" fill="#1c77c0"/>
<circle cx="1416.5" cy="988.3" r="3" fill="#dff0ff"/><path d="M1412.5,1006 v-9.5 q0,-3.5 3.5,-3.5 h2 l4.5,5 l4,-1.2 l.8,2.2 l-5.8,2.2 l-3,-2.6 v7.4 Z" fill="#dff0ff"/><path d="M1424,991.5 l4.5,-3 l6,6.5 l-4.5,7 l-6.5,-1.5 Z" fill="#dff0ff"/><path d="M1426,993.5 l4,4 M1428.5,990.5 l1,7" stroke="#1c77c0" stroke-width=".9"/>
<circle cx="1362.8" cy="1138" r="23.5" fill="#1d1d1d" opacity=".5"/>
<circle cx="1362.6" cy="1136.9" r="21.5" fill="#0b0b0b"/>
<polygon points="1384.4,1142.7 1368.4,1158.7 1346.6,1152.9 1340.8,1131.1 1356.8,1115.1 1378.6,1120.9" fill="url(#stud)"/>
<circle cx="1362.6" cy="1138.5" r="11.5" fill="#0c0c0c"/><circle cx="1362.6" cy="1138.5" r="9" fill="none" stroke="#8f8f8f" stroke-width="1.8"/><circle cx="1362.6" cy="1138.5" r="6" fill="#050505"/><path d="M1347,1125 l9,-6" stroke="#555" stroke-width="1.4"/>
<circle cx="1423.9" cy="1132.6" r="16.3" fill="none" stroke="#f4f4f4" stroke-width="3"/>
<path d="M1423.9,1120.5 v11 M1413.5,1131.8 h20.8 M1416,1136.2 h15.8 M1418.6,1140.6 h10.6" stroke="#f4f4f4" stroke-width="1.4"/>
<text x="1337.69" y="1176.80" font-size="11.8" font-weight="bold" fill="#f4f4f4" textLength="93.29" lengthAdjust="spacingAndGlyphs" >Neutral Bonded to Frame</text>
<text x="1337.84" y="1176.80" font-size="11.8" font-weight="bold" fill="#f4f4f4" textLength="93.29" lengthAdjust="spacingAndGlyphs" >Neutral Bonded to Frame</text>
<text x="1337.99" y="1176.80" font-size="11.8" font-weight="bold" fill="#f4f4f4" textLength="93.29" lengthAdjust="spacingAndGlyphs" >Neutral Bonded to Frame</text>
<text x="1345.48" y="1189.20" font-size="11.8" font-weight="bold" fill="#f4f4f4" textLength="78.68" lengthAdjust="spacingAndGlyphs" >Neutro Conectado al</text>
<text x="1345.63" y="1189.20" font-size="11.8" font-weight="bold" fill="#f4f4f4" textLength="78.68" lengthAdjust="spacingAndGlyphs" >Neutro Conectado al</text>
<text x="1345.78" y="1189.20" font-size="11.8" font-weight="bold" fill="#f4f4f4" textLength="78.68" lengthAdjust="spacingAndGlyphs" >Neutro Conectado al</text>
<text x="1368.08" y="1201.20" font-size="11.8" font-weight="bold" fill="#f4f4f4" textLength="32.35" lengthAdjust="spacingAndGlyphs" >Bastidor</text>
<text x="1368.23" y="1201.20" font-size="11.8" font-weight="bold" fill="#f4f4f4" textLength="32.35" lengthAdjust="spacingAndGlyphs" >Bastidor</text>
<text x="1368.38" y="1201.20" font-size="11.8" font-weight="bold" fill="#f4f4f4" textLength="32.35" lengthAdjust="spacingAndGlyphs" >Bastidor</text>
<clipPath id="pc"><path d="M200,512 L752,512 Q781,512 781,545 L781,566.5 A19.5,19.5 0 0 0 820,566.5 L820,545 Q820,512 850,513 L1397,513.5 Q1417,513.5 1417,535 L1417,540 Q1417,547 1412,551 A21,21 0 1 0 1441,581 Q1447,573 1457,573 Q1477.5,573 1477.5,597 L1477.5,830 Q1477.5,855.5 1452,855.5 L1421.7,855.5 A21.2,21.2 0 0 0 1421.7,898 L1452,898 Q1476.5,898 1476.5,923 L1476,1122 Q1476,1134 1468,1143 L1392,1232 Q1384,1242 1368,1242 L1345,1242 Q1315,1242 1315,1212 L1315,1189.5 A20.5,20.5 0 0 0 1274,1189.5 L1274,1205 Q1274,1242 1250,1242 L1228,1242 C1195,1242 1195,1219 1160,1219 L846,1218 Q817,1218 817,1190 L817,1163.3 A20.25,20.25 0 0 0 776.5,1163.3 L776.5,1190 Q776.5,1217 746,1217 L437,1216.5 C405,1216.5 410,1240 380,1240 L345,1240 Q317,1240 317,1212 L317,1184.5 A17.5,17.5 0 0 0 282,1184.5 L282,1212 Q282,1240 262,1240 L236,1240 Q220,1240 210,1230 L127,1145 Q119,1137 119,1125 L119,921 Q119,895 145,895 L172.5,895 A21.5,21.5 0 0 0 172.5,852 L145,852 Q119,852 119,826 L119,600 Q119,575 141,575 Q152,575 157.9,578 A21,21 0 1 0 187,547.5 Q182,544 182,537 L182,532 Q182,512 200,512 Z"/></clipPath>
<g fill="none" stroke="#d45d3c" stroke-width="6" stroke-linejoin="miter"><path d="M76.5,212 L76.5,348 L201,663"/><path d="M388,213 L388,447 L244.2,761.3"/><path d="M482.5,395 L482.5,632"/><path d="M766,231 L766,394 L694.5,608"/><path d="M838,377 L838,486 L710.7,742.3"/><path d="M1126,254 L1126,599.5"/><path d="M1041.5,634 L1041.5,599.5 L1293,599.5 L1293,634"/><path d="M1170.3,599.5 L1170.3,634"/><path d="M1525.5,296 L1525.5,562 L1337.5,1104.4"/><path d="M93.75,1454.5 L93.75,1324 L308.75,1113.75"/><path d="M368.2,1517 L368.2,1360.6 L581.25,1097"/><path d="M588,1373.7 L588,1266 L749,1088"/><path d="M1073,1378.6 L1073,1085 L961.5,782"/><path d="M1131.8,1409 L1131.8,1062"/><path d="M843,1548.8 L843,1217 L935,1038"/></g>
<g fill="none" stroke="#e6603b" stroke-width="6" stroke-linejoin="miter" clip-path="url(#pc)"><path d="M76.5,212 L76.5,348 L201,663"/><path d="M388,213 L388,447 L244.2,761.3"/><path d="M482.5,395 L482.5,632"/><path d="M766,231 L766,394 L694.5,608"/><path d="M838,377 L838,486 L710.7,742.3"/><path d="M1126,254 L1126,599.5"/><path d="M1041.5,634 L1041.5,599.5 L1293,599.5 L1293,634"/><path d="M1170.3,599.5 L1170.3,634"/><path d="M1525.5,296 L1525.5,562 L1337.5,1104.4"/><path d="M93.75,1454.5 L93.75,1324 L308.75,1113.75"/><path d="M368.2,1517 L368.2,1360.6 L581.25,1097"/><path d="M588,1373.7 L588,1266 L749,1088"/><path d="M1073,1378.6 L1073,1085 L961.5,782"/><path d="M1131.8,1409 L1131.8,1062"/><path d="M843,1548.8 L843,1217 L935,1038"/></g>
<circle cx="201" cy="663.5" r="8.4" fill="#ea5a30"/><circle cx="244.2" cy="761.3" r="8.4" fill="#ea5a30"/><circle cx="482.6" cy="632.6" r="8.4" fill="#ea5a30"/><circle cx="694.5" cy="608" r="8.4" fill="#ea5a30"/><circle cx="710.7" cy="742.3" r="8.4" fill="#ea5a30"/><circle cx="1042.5" cy="634.7" r="8.4" fill="#ea5a30"/><circle cx="1170.3" cy="634.7" r="8.4" fill="#ea5a30"/><circle cx="1293" cy="634.7" r="8.4" fill="#ea5a30"/><circle cx="1337.5" cy="1104.4" r="8.4" fill="#ea5a30"/><circle cx="308.75" cy="1113.75" r="8.4" fill="#ea5a30"/><circle cx="581.25" cy="1097" r="8.4" fill="#ea5a30"/><circle cx="749" cy="1088" r="8.4" fill="#ea5a30"/><circle cx="961.5" cy="782" r="8.4" fill="#ea5a30"/><circle cx="1133.5" cy="1062.2" r="8.4" fill="#ea5a30"/><circle cx="935" cy="1037.8" r="8.4" fill="#ea5a30"/>
<text x="452.61" y="181.00" font-size="174" font-weight="bold" fill="#000" textLength="699.09" lengthAdjust="spacingAndGlyphs" >Control Panel:</text><text x="453.81" y="181.00" font-size="174" font-weight="bold" fill="#000" textLength="699.09" lengthAdjust="spacingAndGlyphs" >Control Panel:</text><text x="455.01" y="181.00" font-size="174" font-weight="bold" fill="#000" textLength="699.09" lengthAdjust="spacingAndGlyphs" >Control Panel:</text><text x="456.21" y="181.00" font-size="174" font-weight="bold" fill="#000" textLength="699.09" lengthAdjust="spacingAndGlyphs" >Control Panel:</text><text x="457.41" y="181.00" font-size="174" font-weight="bold" fill="#000" textLength="699.09" lengthAdjust="spacingAndGlyphs" >Control Panel:</text>
<text x="100.00" y="251.00" font-size="56" font-weight="bold" fill="#000" textLength="239.45" lengthAdjust="spacingAndGlyphs" >Westinghouse</text><text x="100.90" y="251.00" font-size="56" font-weight="bold" fill="#000" textLength="239.45" lengthAdjust="spacingAndGlyphs" >Westinghouse</text><text x="101.80" y="251.00" font-size="56" font-weight="bold" fill="#000" textLength="239.45" lengthAdjust="spacingAndGlyphs" >Westinghouse</text>
<text x="98.98" y="303.50" font-size="56" font-weight="bold" fill="#000" textLength="162.20" lengthAdjust="spacingAndGlyphs" >ST Switch</text><text x="99.88" y="303.50" font-size="56" font-weight="bold" fill="#000" textLength="162.20" lengthAdjust="spacingAndGlyphs" >ST Switch</text><text x="100.78" y="303.50" font-size="56" font-weight="bold" fill="#000" textLength="162.20" lengthAdjust="spacingAndGlyphs" >ST Switch</text>
<text x="98.64" y="355.50" font-size="56" font-weight="bold" fill="#000" textLength="98.53" lengthAdjust="spacingAndGlyphs" >Outlet</text><text x="99.54" y="355.50" font-size="56" font-weight="bold" fill="#000" textLength="98.53" lengthAdjust="spacingAndGlyphs" >Outlet</text><text x="100.44" y="355.50" font-size="56" font-weight="bold" fill="#000" textLength="98.53" lengthAdjust="spacingAndGlyphs" >Outlet</text>
<text x="410.33" y="253.00" font-size="56" font-weight="bold" fill="#000" textLength="163.85" lengthAdjust="spacingAndGlyphs" >VFT Meter</text><text x="411.23" y="253.00" font-size="56" font-weight="bold" fill="#000" textLength="163.85" lengthAdjust="spacingAndGlyphs" >VFT Meter</text><text x="412.13" y="253.00" font-size="56" font-weight="bold" fill="#000" textLength="163.85" lengthAdjust="spacingAndGlyphs" >VFT Meter</text>
<text x="408.14" y="292.00" font-size="30.5" font-weight="normal" fill="#000" textLength="248.16" lengthAdjust="spacingAndGlyphs" >(Volts, Frequency,</text>
<text x="407.41" y="331.00" font-size="30.5" font-weight="normal" fill="#000" textLength="283.93" lengthAdjust="spacingAndGlyphs" >Maintenance Alerts,</text>
<text x="407.61" y="370.00" font-size="30.5" font-weight="normal" fill="#000" textLength="137.76" lengthAdjust="spacingAndGlyphs" >Run Time)</text>
<text x="501.82" y="433.75" font-size="56" font-weight="bold" fill="#000" textLength="199.60" lengthAdjust="spacingAndGlyphs" >Push Button</text><text x="502.72" y="433.75" font-size="56" font-weight="bold" fill="#000" textLength="199.60" lengthAdjust="spacingAndGlyphs" >Push Button</text><text x="503.62" y="433.75" font-size="56" font-weight="bold" fill="#000" textLength="199.60" lengthAdjust="spacingAndGlyphs" >Push Button</text>
<text x="501.74" y="485.00" font-size="56" font-weight="bold" fill="#000" textLength="214.97" lengthAdjust="spacingAndGlyphs" >Electric Start</text><text x="502.64" y="485.00" font-size="56" font-weight="bold" fill="#000" textLength="214.97" lengthAdjust="spacingAndGlyphs" >Electric Start</text><text x="503.54" y="485.00" font-size="56" font-weight="bold" fill="#000" textLength="214.97" lengthAdjust="spacingAndGlyphs" >Electric Start</text>
<text x="787.46" y="270.50" font-size="56" font-weight="bold" fill="#000" textLength="266.71" lengthAdjust="spacingAndGlyphs" >CO Auto Shut Off</text><text x="788.36" y="270.50" font-size="56" font-weight="bold" fill="#000" textLength="266.71" lengthAdjust="spacingAndGlyphs" >CO Auto Shut Off</text><text x="789.26" y="270.50" font-size="56" font-weight="bold" fill="#000" textLength="266.71" lengthAdjust="spacingAndGlyphs" >CO Auto Shut Off</text>
<text x="786.48" y="322.50" font-size="56" font-weight="bold" fill="#000" textLength="147.16" lengthAdjust="spacingAndGlyphs" >Indicator</text><text x="787.38" y="322.50" font-size="56" font-weight="bold" fill="#000" textLength="147.16" lengthAdjust="spacingAndGlyphs" >Indicator</text><text x="788.28" y="322.50" font-size="56" font-weight="bold" fill="#000" textLength="147.16" lengthAdjust="spacingAndGlyphs" >Indicator</text>
<text x="858.28" y="415.50" font-size="56" font-weight="bold" fill="#000" textLength="241.17" lengthAdjust="spacingAndGlyphs" >Engine/Battery</text><text x="859.18" y="415.50" font-size="56" font-weight="bold" fill="#000" textLength="241.17" lengthAdjust="spacingAndGlyphs" >Engine/Battery</text><text x="860.08" y="415.50" font-size="56" font-weight="bold" fill="#000" textLength="241.17" lengthAdjust="spacingAndGlyphs" >Engine/Battery</text>
<text x="859.52" y="467.00" font-size="56" font-weight="bold" fill="#000" textLength="128.63" lengthAdjust="spacingAndGlyphs" >Shut Off</text><text x="860.42" y="467.00" font-size="56" font-weight="bold" fill="#000" textLength="128.63" lengthAdjust="spacingAndGlyphs" >Shut Off</text><text x="861.32" y="467.00" font-size="56" font-weight="bold" fill="#000" textLength="128.63" lengthAdjust="spacingAndGlyphs" >Shut Off</text>
<text x="1146.64" y="294.00" font-size="56" font-weight="bold" fill="#000" textLength="82.85" lengthAdjust="spacingAndGlyphs" >Main</text><text x="1147.54" y="294.00" font-size="56" font-weight="bold" fill="#000" textLength="82.85" lengthAdjust="spacingAndGlyphs" >Main</text><text x="1148.44" y="294.00" font-size="56" font-weight="bold" fill="#000" textLength="82.85" lengthAdjust="spacingAndGlyphs" >Main</text>
<text x="1147.66" y="346.00" font-size="56" font-weight="bold" fill="#000" textLength="106.25" lengthAdjust="spacingAndGlyphs" >Circuit</text><text x="1148.56" y="346.00" font-size="56" font-weight="bold" fill="#000" textLength="106.25" lengthAdjust="spacingAndGlyphs" >Circuit</text><text x="1149.46" y="346.00" font-size="56" font-weight="bold" fill="#000" textLength="106.25" lengthAdjust="spacingAndGlyphs" >Circuit</text>
<text x="1146.75" y="398.50" font-size="56" font-weight="bold" fill="#000" textLength="128.98" lengthAdjust="spacingAndGlyphs" >Breaker</text><text x="1147.65" y="398.50" font-size="56" font-weight="bold" fill="#000" textLength="128.98" lengthAdjust="spacingAndGlyphs" >Breaker</text><text x="1148.55" y="398.50" font-size="56" font-weight="bold" fill="#000" textLength="128.98" lengthAdjust="spacingAndGlyphs" >Breaker</text>
<text x="1380.74" y="334.70" font-size="56" font-weight="bold" fill="#000" textLength="123.83" lengthAdjust="spacingAndGlyphs" >Parallel</text><text x="1381.64" y="334.70" font-size="56" font-weight="bold" fill="#000" textLength="123.83" lengthAdjust="spacingAndGlyphs" >Parallel</text><text x="1382.54" y="334.70" font-size="56" font-weight="bold" fill="#000" textLength="123.83" lengthAdjust="spacingAndGlyphs" >Parallel</text>
<text x="1380.74" y="387.00" font-size="56" font-weight="bold" fill="#000" textLength="88.89" lengthAdjust="spacingAndGlyphs" >Ports</text><text x="1381.64" y="387.00" font-size="56" font-weight="bold" fill="#000" textLength="88.89" lengthAdjust="spacingAndGlyphs" >Ports</text><text x="1382.54" y="387.00" font-size="56" font-weight="bold" fill="#000" textLength="88.89" lengthAdjust="spacingAndGlyphs" >Ports</text>
<text x="113.70" y="1400.70" font-size="56" font-weight="bold" fill="#000" textLength="121.71" lengthAdjust="spacingAndGlyphs" >Battery</text><text x="114.60" y="1400.70" font-size="56" font-weight="bold" fill="#000" textLength="121.71" lengthAdjust="spacingAndGlyphs" >Battery</text><text x="115.50" y="1400.70" font-size="56" font-weight="bold" fill="#000" textLength="121.71" lengthAdjust="spacingAndGlyphs" >Battery</text>
<text x="114.64" y="1452.50" font-size="56" font-weight="bold" fill="#000" textLength="226.96" lengthAdjust="spacingAndGlyphs" >Charging Port</text><text x="115.54" y="1452.50" font-size="56" font-weight="bold" fill="#000" textLength="226.96" lengthAdjust="spacingAndGlyphs" >Charging Port</text><text x="116.44" y="1452.50" font-size="56" font-weight="bold" fill="#000" textLength="226.96" lengthAdjust="spacingAndGlyphs" >Charging Port</text>
<text x="389.95" y="1463.00" font-size="56" font-weight="bold" fill="#000" textLength="209.20" lengthAdjust="spacingAndGlyphs" >120V AC 20A</text><text x="390.85" y="1463.00" font-size="56" font-weight="bold" fill="#000" textLength="209.20" lengthAdjust="spacingAndGlyphs" >120V AC 20A</text><text x="391.75" y="1463.00" font-size="56" font-weight="bold" fill="#000" textLength="209.20" lengthAdjust="spacingAndGlyphs" >120V AC 20A</text>
<text x="390.99" y="1515.00" font-size="56" font-weight="bold" fill="#000" textLength="181.37" lengthAdjust="spacingAndGlyphs" >5-20R GFCI</text><text x="391.89" y="1515.00" font-size="56" font-weight="bold" fill="#000" textLength="181.37" lengthAdjust="spacingAndGlyphs" >5-20R GFCI</text><text x="392.79" y="1515.00" font-size="56" font-weight="bold" fill="#000" textLength="181.37" lengthAdjust="spacingAndGlyphs" >5-20R GFCI</text>
<text x="607.34" y="1321.00" font-size="56" font-weight="bold" fill="#000" textLength="107.97" lengthAdjust="spacingAndGlyphs" >Circuit</text><text x="608.24" y="1321.00" font-size="56" font-weight="bold" fill="#000" textLength="107.97" lengthAdjust="spacingAndGlyphs" >Circuit</text><text x="609.14" y="1321.00" font-size="56" font-weight="bold" fill="#000" textLength="107.97" lengthAdjust="spacingAndGlyphs" >Circuit</text>
<text x="606.44" y="1373.00" font-size="56" font-weight="bold" fill="#000" textLength="148.90" lengthAdjust="spacingAndGlyphs" >Breakers</text><text x="607.34" y="1373.00" font-size="56" font-weight="bold" fill="#000" textLength="148.90" lengthAdjust="spacingAndGlyphs" >Breakers</text><text x="608.24" y="1373.00" font-size="56" font-weight="bold" fill="#000" textLength="148.90" lengthAdjust="spacingAndGlyphs" >Breakers</text>
<text x="893.42" y="1378.00" font-size="56" font-weight="bold" fill="#000" textLength="158.04" lengthAdjust="spacingAndGlyphs" >Eco Mode</text><text x="894.32" y="1378.00" font-size="56" font-weight="bold" fill="#000" textLength="158.04" lengthAdjust="spacingAndGlyphs" >Eco Mode</text><text x="895.22" y="1378.00" font-size="56" font-weight="bold" fill="#000" textLength="158.04" lengthAdjust="spacingAndGlyphs" >Eco Mode</text>
<text x="1151.36" y="1356.00" font-size="56" font-weight="bold" fill="#000" textLength="287.88" lengthAdjust="spacingAndGlyphs" >120/240V AC 50A</text><text x="1152.26" y="1356.00" font-size="56" font-weight="bold" fill="#000" textLength="287.88" lengthAdjust="spacingAndGlyphs" >120/240V AC 50A</text><text x="1153.16" y="1356.00" font-size="56" font-weight="bold" fill="#000" textLength="287.88" lengthAdjust="spacingAndGlyphs" >120/240V AC 50A</text>
<text x="1151.37" y="1407.50" font-size="56" font-weight="bold" fill="#000" textLength="116.54" lengthAdjust="spacingAndGlyphs" >14-50R</text><text x="1152.27" y="1407.50" font-size="56" font-weight="bold" fill="#000" textLength="116.54" lengthAdjust="spacingAndGlyphs" >14-50R</text><text x="1153.17" y="1407.50" font-size="56" font-weight="bold" fill="#000" textLength="116.54" lengthAdjust="spacingAndGlyphs" >14-50R</text>
<text x="861.56" y="1495.60" font-size="56" font-weight="bold" fill="#000" textLength="288.19" lengthAdjust="spacingAndGlyphs" >120/240V AC 30A</text><text x="862.46" y="1495.60" font-size="56" font-weight="bold" fill="#000" textLength="288.19" lengthAdjust="spacingAndGlyphs" >120/240V AC 30A</text><text x="863.36" y="1495.60" font-size="56" font-weight="bold" fill="#000" textLength="288.19" lengthAdjust="spacingAndGlyphs" >120/240V AC 30A</text>
<text x="861.49" y="1548.00" font-size="56" font-weight="bold" fill="#000" textLength="315.28" lengthAdjust="spacingAndGlyphs" >L14-30R Twist Lock</text><text x="862.39" y="1548.00" font-size="56" font-weight="bold" fill="#000" textLength="315.28" lengthAdjust="spacingAndGlyphs" >L14-30R Twist Lock</text><text x="863.29" y="1548.00" font-size="56" font-weight="bold" fill="#000" textLength="315.28" lengthAdjust="spacingAndGlyphs" >L14-30R Twist Lock</text>
</svg></body></html>
